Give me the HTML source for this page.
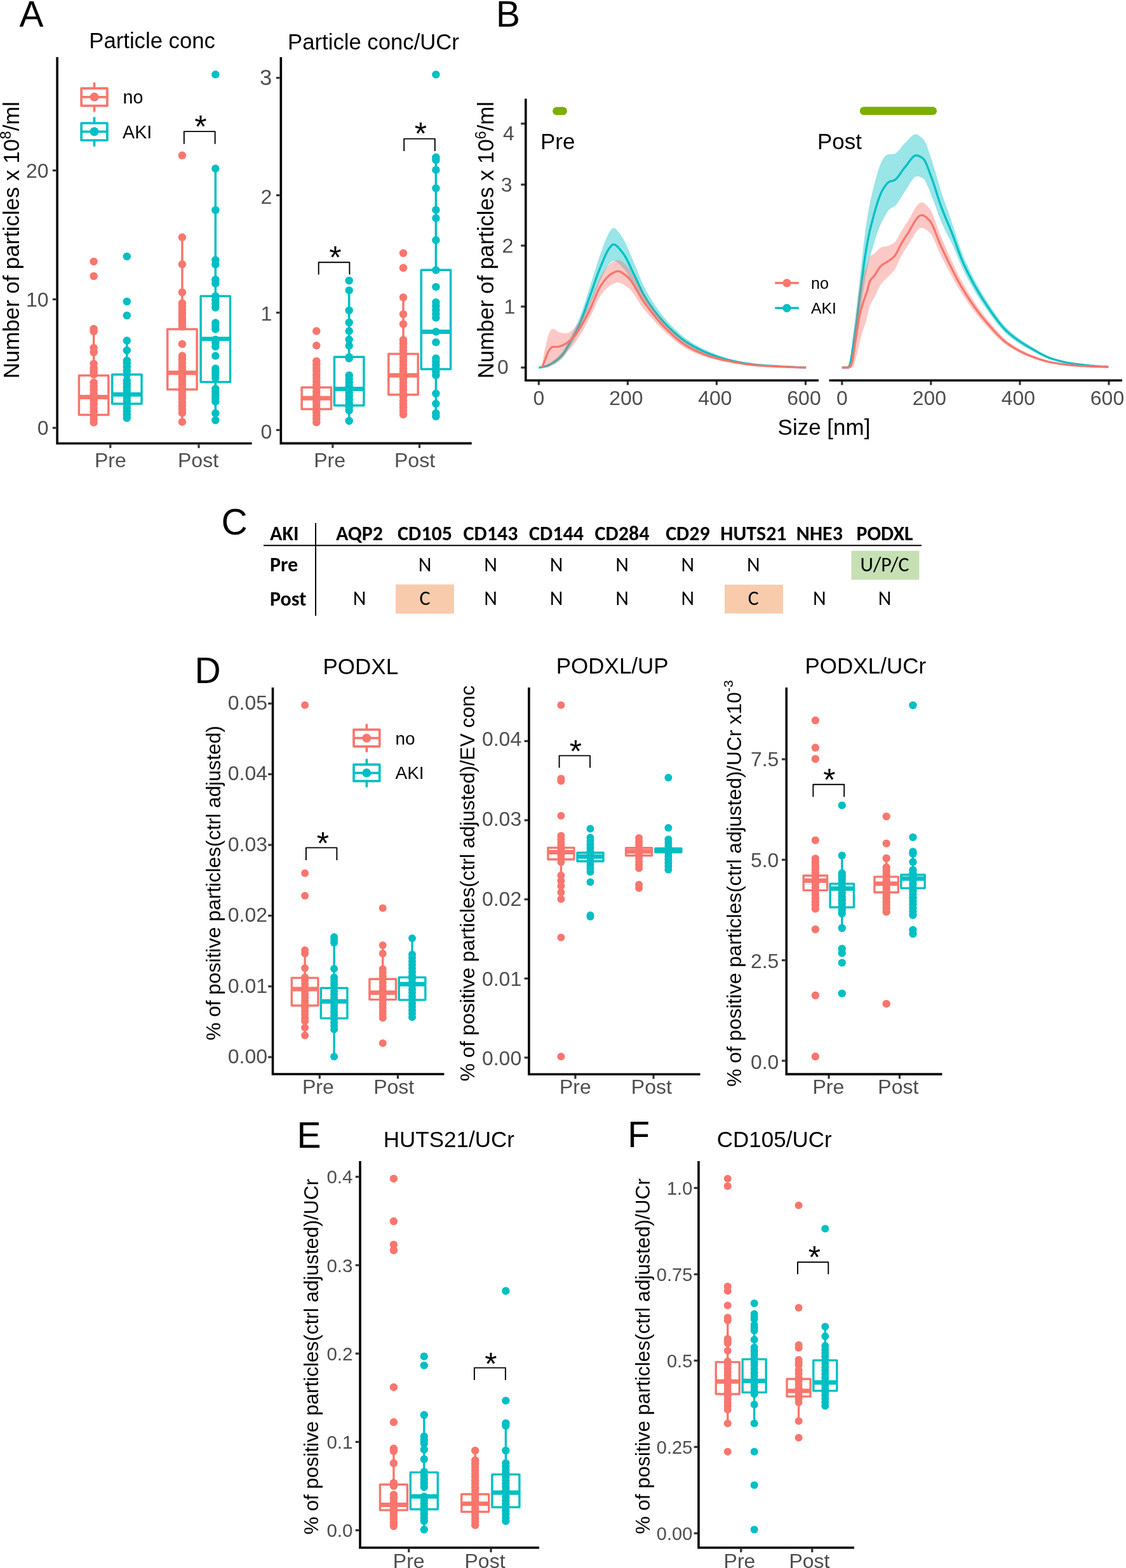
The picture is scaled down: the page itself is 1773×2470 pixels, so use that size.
<!DOCTYPE html>
<html><head><meta charset="utf-8"><title>Figure</title>
<style>html,body{margin:0;padding:0;background:#fff;}svg{display:block;}</style>
</head><body>
<svg width="1773" height="2470" viewBox="0 0 1773 2470">
<rect width="1773" height="2470" fill="#fff"/>
<text x="30.5" y="42" font-size="57" text-anchor="start" fill="#000" font-family="'Liberation Sans', Arial, sans-serif">A</text>
<text x="239.6" y="76.2" font-size="34.7" text-anchor="middle" fill="#000" font-family="'Liberation Sans', Arial, sans-serif">Particle conc</text>
<text transform="translate(29.6,378.1) rotate(-90)" x="0" y="0" font-size="34.8" text-anchor="middle" fill="#000" font-family="'Liberation Sans', Arial, sans-serif">Number of particles x 10<tspan dy="-12.5" font-size="23">8</tspan><tspan dy="12.5">/ml</tspan></text>
<path d="M90.1,90 V698.5 H396.5" fill="none" stroke="#000" stroke-width="3.6" stroke-linecap="butt" stroke-linejoin="miter"/>
<line x1="82.8" y1="674" x2="88.3" y2="674" stroke="#333333" stroke-width="3.2" stroke-linecap="butt"/>
<text x="76.5" y="685.46" font-size="32" text-anchor="end" fill="#4D4D4D" font-family="'Liberation Sans', Arial, sans-serif">0</text>
<line x1="82.8" y1="471.5" x2="88.3" y2="471.5" stroke="#333333" stroke-width="3.2" stroke-linecap="butt"/>
<text x="76.5" y="482.96" font-size="32" text-anchor="end" fill="#4D4D4D" font-family="'Liberation Sans', Arial, sans-serif">10</text>
<line x1="82.8" y1="268.5" x2="88.3" y2="268.5" stroke="#333333" stroke-width="3.2" stroke-linecap="butt"/>
<text x="76.5" y="279.96" font-size="32" text-anchor="end" fill="#4D4D4D" font-family="'Liberation Sans', Arial, sans-serif">20</text>
<line x1="173.8" y1="700.3" x2="173.8" y2="705.8" stroke="#333333" stroke-width="3.2" stroke-linecap="butt"/>
<text x="173.8" y="736.2" font-size="32" text-anchor="middle" fill="#4D4D4D" font-family="'Liberation Sans', Arial, sans-serif">Pre</text>
<line x1="313" y1="700.3" x2="313" y2="705.8" stroke="#333333" stroke-width="3.2" stroke-linecap="butt"/>
<text x="312" y="736.2" font-size="32" text-anchor="middle" fill="#4D4D4D" font-family="'Liberation Sans', Arial, sans-serif">Post</text>
<line x1="148.5" y1="131.25" x2="148.5" y2="139.2" stroke="#F8766D" stroke-width="3.7" stroke-linecap="round"/>
<line x1="148.5" y1="166.65" x2="148.5" y2="174.65" stroke="#F8766D" stroke-width="3.7" stroke-linecap="round"/>
<rect x="128.1" y="139.2" width="40.8" height="27.45" fill="none" stroke="#F8766D" stroke-width="3.7" stroke-linejoin="round"/>
<line x1="128.1" y1="152.85" x2="168.9" y2="152.85" stroke="#F8766D" stroke-width="3.7" stroke-linecap="butt"/>
<circle cx="148.5" cy="152.85" r="7" fill="#F8766D"/>
<line x1="148.5" y1="185.95" x2="148.5" y2="194" stroke="#00BFC4" stroke-width="3.7" stroke-linecap="round"/>
<line x1="148.5" y1="221" x2="148.5" y2="229.35" stroke="#00BFC4" stroke-width="3.7" stroke-linecap="round"/>
<rect x="128.1" y="194" width="40.8" height="27" fill="none" stroke="#00BFC4" stroke-width="3.7" stroke-linejoin="round"/>
<line x1="128.1" y1="207.3" x2="168.9" y2="207.3" stroke="#00BFC4" stroke-width="3.7" stroke-linecap="butt"/>
<circle cx="148.5" cy="207.3" r="7" fill="#00BFC4"/>
<text x="193.5" y="163.2" font-size="28.6" text-anchor="start" fill="#000" font-family="'Liberation Sans', Arial, sans-serif">no</text>
<text x="193.1" y="217.8" font-size="28.6" text-anchor="start" fill="#000" font-family="'Liberation Sans', Arial, sans-serif">AKI</text>
<line x1="147.6" y1="520" x2="147.6" y2="591.4" stroke="#F8766D" stroke-width="3.5" stroke-linecap="butt"/>
<line x1="147.6" y1="653.5" x2="147.6" y2="671" stroke="#F8766D" stroke-width="3.5" stroke-linecap="butt"/>
<rect x="124.4" y="591.4" width="46.4" height="62.1" fill="none" stroke="#F8766D" stroke-width="3.5" stroke-linejoin="round"/>
<line x1="124.4" y1="625.5" x2="170.8" y2="625.5" stroke="#F8766D" stroke-width="6.9" stroke-linecap="butt"/>
<circle cx="147.6" cy="412" r="6.25" fill="#F8766D"/>
<circle cx="147.6" cy="435" r="6.25" fill="#F8766D"/>
<circle cx="147.6" cy="518" r="6.25" fill="#F8766D"/>
<circle cx="147.6" cy="522" r="6.25" fill="#F8766D"/>
<circle cx="147.6" cy="548" r="6.25" fill="#F8766D"/>
<circle cx="147.6" cy="555" r="6.25" fill="#F8766D"/>
<circle cx="147.6" cy="573" r="6.25" fill="#F8766D"/>
<circle cx="147.6" cy="580" r="6.25" fill="#F8766D"/>
<circle cx="147.6" cy="585" r="6.25" fill="#F8766D"/>
<circle cx="147.6" cy="590" r="6.25" fill="#F8766D"/>
<circle cx="147.6" cy="602.5" r="6.25" fill="#F8766D"/>
<circle cx="147.6" cy="608.23" r="6.25" fill="#F8766D"/>
<circle cx="147.6" cy="613.95" r="6.25" fill="#F8766D"/>
<circle cx="147.6" cy="619.68" r="6.25" fill="#F8766D"/>
<circle cx="147.6" cy="625.41" r="6.25" fill="#F8766D"/>
<circle cx="147.6" cy="631.14" r="6.25" fill="#F8766D"/>
<circle cx="147.6" cy="636.86" r="6.25" fill="#F8766D"/>
<circle cx="147.6" cy="642.59" r="6.25" fill="#F8766D"/>
<circle cx="147.6" cy="648.32" r="6.25" fill="#F8766D"/>
<circle cx="147.6" cy="654.05" r="6.25" fill="#F8766D"/>
<circle cx="147.6" cy="659.77" r="6.25" fill="#F8766D"/>
<circle cx="147.6" cy="665.5" r="6.25" fill="#F8766D"/>
<line x1="199.8" y1="536.6" x2="199.8" y2="590" stroke="#00BFC4" stroke-width="3.5" stroke-linecap="butt"/>
<line x1="199.8" y1="636" x2="199.8" y2="663.8" stroke="#00BFC4" stroke-width="3.5" stroke-linecap="butt"/>
<rect x="176.6" y="590" width="46.4" height="46" fill="none" stroke="#00BFC4" stroke-width="3.5" stroke-linejoin="round"/>
<line x1="176.6" y1="621.4" x2="223" y2="621.4" stroke="#00BFC4" stroke-width="6.9" stroke-linecap="butt"/>
<circle cx="199.8" cy="404" r="6.25" fill="#00BFC4"/>
<circle cx="199.8" cy="475" r="6.25" fill="#00BFC4"/>
<circle cx="199.8" cy="497" r="6.25" fill="#00BFC4"/>
<circle cx="199.8" cy="536.6" r="6.25" fill="#00BFC4"/>
<circle cx="199.8" cy="552" r="6.25" fill="#00BFC4"/>
<circle cx="199.8" cy="568" r="6.25" fill="#00BFC4"/>
<circle cx="199.8" cy="572" r="6.25" fill="#00BFC4"/>
<circle cx="199.8" cy="578" r="6.25" fill="#00BFC4"/>
<circle cx="199.8" cy="584" r="6.25" fill="#00BFC4"/>
<circle cx="199.8" cy="590" r="6.25" fill="#00BFC4"/>
<circle cx="199.8" cy="599.5" r="6.25" fill="#00BFC4"/>
<circle cx="199.8" cy="604.86" r="6.25" fill="#00BFC4"/>
<circle cx="199.8" cy="610.23" r="6.25" fill="#00BFC4"/>
<circle cx="199.8" cy="615.59" r="6.25" fill="#00BFC4"/>
<circle cx="199.8" cy="620.95" r="6.25" fill="#00BFC4"/>
<circle cx="199.8" cy="626.32" r="6.25" fill="#00BFC4"/>
<circle cx="199.8" cy="631.68" r="6.25" fill="#00BFC4"/>
<circle cx="199.8" cy="637.05" r="6.25" fill="#00BFC4"/>
<circle cx="199.8" cy="642.41" r="6.25" fill="#00BFC4"/>
<circle cx="199.8" cy="647.77" r="6.25" fill="#00BFC4"/>
<circle cx="199.8" cy="653.14" r="6.25" fill="#00BFC4"/>
<circle cx="199.8" cy="658.5" r="6.25" fill="#00BFC4"/>
<line x1="286.9" y1="373.8" x2="286.9" y2="518.6" stroke="#F8766D" stroke-width="3.5" stroke-linecap="butt"/>
<line x1="286.9" y1="613.4" x2="286.9" y2="664.7" stroke="#F8766D" stroke-width="3.5" stroke-linecap="butt"/>
<rect x="263.7" y="518.6" width="46.4" height="94.8" fill="none" stroke="#F8766D" stroke-width="3.5" stroke-linejoin="round"/>
<line x1="263.7" y1="587.3" x2="310.1" y2="587.3" stroke="#F8766D" stroke-width="6.9" stroke-linecap="butt"/>
<circle cx="286.9" cy="244.8" r="6.25" fill="#F8766D"/>
<circle cx="286.9" cy="373.8" r="6.25" fill="#F8766D"/>
<circle cx="286.9" cy="416.3" r="6.25" fill="#F8766D"/>
<circle cx="286.9" cy="460.5" r="6.25" fill="#F8766D"/>
<circle cx="286.9" cy="477.5" r="6.25" fill="#F8766D"/>
<circle cx="286.9" cy="482.79" r="6.25" fill="#F8766D"/>
<circle cx="286.9" cy="488.07" r="6.25" fill="#F8766D"/>
<circle cx="286.9" cy="493.36" r="6.25" fill="#F8766D"/>
<circle cx="286.9" cy="498.64" r="6.25" fill="#F8766D"/>
<circle cx="286.9" cy="503.93" r="6.25" fill="#F8766D"/>
<circle cx="286.9" cy="509.21" r="6.25" fill="#F8766D"/>
<circle cx="286.9" cy="514.5" r="6.25" fill="#F8766D"/>
<circle cx="286.9" cy="542" r="6.25" fill="#F8766D"/>
<circle cx="286.9" cy="560.5" r="6.25" fill="#F8766D"/>
<circle cx="286.9" cy="566.12" r="6.25" fill="#F8766D"/>
<circle cx="286.9" cy="571.75" r="6.25" fill="#F8766D"/>
<circle cx="286.9" cy="577.38" r="6.25" fill="#F8766D"/>
<circle cx="286.9" cy="583" r="6.25" fill="#F8766D"/>
<circle cx="286.9" cy="588.62" r="6.25" fill="#F8766D"/>
<circle cx="286.9" cy="594.25" r="6.25" fill="#F8766D"/>
<circle cx="286.9" cy="599.88" r="6.25" fill="#F8766D"/>
<circle cx="286.9" cy="605.5" r="6.25" fill="#F8766D"/>
<circle cx="286.9" cy="611.12" r="6.25" fill="#F8766D"/>
<circle cx="286.9" cy="616.75" r="6.25" fill="#F8766D"/>
<circle cx="286.9" cy="622.38" r="6.25" fill="#F8766D"/>
<circle cx="286.9" cy="628" r="6.25" fill="#F8766D"/>
<circle cx="286.9" cy="633.62" r="6.25" fill="#F8766D"/>
<circle cx="286.9" cy="639.25" r="6.25" fill="#F8766D"/>
<circle cx="286.9" cy="644.88" r="6.25" fill="#F8766D"/>
<circle cx="286.9" cy="650.5" r="6.25" fill="#F8766D"/>
<circle cx="286.9" cy="664.7" r="6.25" fill="#F8766D"/>
<line x1="339.3" y1="265.6" x2="339.3" y2="466.4" stroke="#00BFC4" stroke-width="3.5" stroke-linecap="butt"/>
<line x1="339.3" y1="601.7" x2="339.3" y2="662" stroke="#00BFC4" stroke-width="3.5" stroke-linecap="butt"/>
<rect x="316.1" y="466.4" width="46.4" height="135.3" fill="none" stroke="#00BFC4" stroke-width="3.5" stroke-linejoin="round"/>
<line x1="316.1" y1="533.9" x2="362.5" y2="533.9" stroke="#00BFC4" stroke-width="6.9" stroke-linecap="butt"/>
<circle cx="339.3" cy="117.3" r="6.25" fill="#00BFC4"/>
<circle cx="339.3" cy="265.6" r="6.25" fill="#00BFC4"/>
<circle cx="339.3" cy="331" r="6.25" fill="#00BFC4"/>
<circle cx="339.3" cy="409.5" r="6.25" fill="#00BFC4"/>
<circle cx="339.3" cy="416.5" r="6.25" fill="#00BFC4"/>
<circle cx="339.3" cy="440.5" r="6.25" fill="#00BFC4"/>
<circle cx="339.3" cy="446.5" r="6.25" fill="#00BFC4"/>
<circle cx="339.3" cy="466.5" r="6.25" fill="#00BFC4"/>
<circle cx="339.3" cy="472.5" r="6.25" fill="#00BFC4"/>
<circle cx="339.3" cy="478.5" r="6.25" fill="#00BFC4"/>
<circle cx="339.3" cy="484.5" r="6.25" fill="#00BFC4"/>
<circle cx="339.3" cy="508.5" r="6.25" fill="#00BFC4"/>
<circle cx="339.3" cy="513.5" r="6.25" fill="#00BFC4"/>
<circle cx="339.3" cy="518.5" r="6.25" fill="#00BFC4"/>
<circle cx="339.3" cy="535" r="6.25" fill="#00BFC4"/>
<circle cx="339.3" cy="540" r="6.25" fill="#00BFC4"/>
<circle cx="339.3" cy="546" r="6.25" fill="#00BFC4"/>
<circle cx="339.3" cy="560.6" r="6.25" fill="#00BFC4"/>
<circle cx="339.3" cy="580.5" r="6.25" fill="#00BFC4"/>
<circle cx="339.3" cy="585.5" r="6.25" fill="#00BFC4"/>
<circle cx="339.3" cy="590.5" r="6.25" fill="#00BFC4"/>
<circle cx="339.3" cy="595.5" r="6.25" fill="#00BFC4"/>
<circle cx="339.3" cy="612.5" r="6.25" fill="#00BFC4"/>
<circle cx="339.3" cy="617.5" r="6.25" fill="#00BFC4"/>
<circle cx="339.3" cy="622.5" r="6.25" fill="#00BFC4"/>
<circle cx="339.3" cy="627.5" r="6.25" fill="#00BFC4"/>
<circle cx="339.3" cy="632.5" r="6.25" fill="#00BFC4"/>
<circle cx="339.3" cy="651" r="6.25" fill="#00BFC4"/>
<circle cx="339.3" cy="662" r="6.25" fill="#00BFC4"/>
<path d="M289.8,226.7 V207.1 H338.6 V226.7" fill="none" stroke="#000" stroke-width="1.9" stroke-linejoin="round"/>
<text x="316" y="216.66" font-size="49.5" text-anchor="middle" fill="#000" font-family="'Liberation Sans', Arial, sans-serif">*</text>
<text x="588" y="77.5" font-size="34.7" text-anchor="middle" fill="#000" font-family="'Liberation Sans', Arial, sans-serif">Particle conc/UCr</text>
<path d="M442.3,90 V698.4 H742.7" fill="none" stroke="#000" stroke-width="3.6" stroke-linecap="butt" stroke-linejoin="miter"/>
<line x1="435" y1="677.4" x2="440.5" y2="677.4" stroke="#333333" stroke-width="3.2" stroke-linecap="butt"/>
<text x="428.2" y="690.66" font-size="32" text-anchor="end" fill="#4D4D4D" font-family="'Liberation Sans', Arial, sans-serif">0</text>
<line x1="435" y1="492.5" x2="440.5" y2="492.5" stroke="#333333" stroke-width="3.2" stroke-linecap="butt"/>
<text x="428.2" y="505.41" font-size="32" text-anchor="end" fill="#4D4D4D" font-family="'Liberation Sans', Arial, sans-serif">1</text>
<line x1="435" y1="307.6" x2="440.5" y2="307.6" stroke="#333333" stroke-width="3.2" stroke-linecap="butt"/>
<text x="428.2" y="320.66" font-size="32" text-anchor="end" fill="#4D4D4D" font-family="'Liberation Sans', Arial, sans-serif">2</text>
<line x1="435" y1="122.7" x2="440.5" y2="122.7" stroke="#333333" stroke-width="3.2" stroke-linecap="butt"/>
<text x="428.2" y="133.7" font-size="34.5" text-anchor="end" fill="#4D4D4D" font-family="'Liberation Sans', Arial, sans-serif">3</text>
<line x1="523.9" y1="700.2" x2="523.9" y2="705.7" stroke="#333333" stroke-width="3.2" stroke-linecap="butt"/>
<text x="519.1" y="736.2" font-size="32" text-anchor="middle" fill="#4D4D4D" font-family="'Liberation Sans', Arial, sans-serif">Pre</text>
<line x1="660.5" y1="700.2" x2="660.5" y2="705.7" stroke="#333333" stroke-width="3.2" stroke-linecap="butt"/>
<text x="653" y="736.2" font-size="32" text-anchor="middle" fill="#4D4D4D" font-family="'Liberation Sans', Arial, sans-serif">Post</text>
<line x1="498.3" y1="563.5" x2="498.3" y2="610.3" stroke="#F8766D" stroke-width="3.5" stroke-linecap="butt"/>
<line x1="498.3" y1="644.5" x2="498.3" y2="670.8" stroke="#F8766D" stroke-width="3.5" stroke-linecap="butt"/>
<rect x="475.1" y="610.3" width="46.4" height="34.2" fill="none" stroke="#F8766D" stroke-width="3.5" stroke-linejoin="round"/>
<line x1="475.1" y1="627.2" x2="521.5" y2="627.2" stroke="#F8766D" stroke-width="6.9" stroke-linecap="butt"/>
<circle cx="498.3" cy="521.5" r="6.25" fill="#F8766D"/>
<circle cx="498.3" cy="544.3" r="6.25" fill="#F8766D"/>
<circle cx="498.3" cy="569" r="6.25" fill="#F8766D"/>
<circle cx="498.3" cy="574.35" r="6.25" fill="#F8766D"/>
<circle cx="498.3" cy="579.7" r="6.25" fill="#F8766D"/>
<circle cx="498.3" cy="585.05" r="6.25" fill="#F8766D"/>
<circle cx="498.3" cy="590.4" r="6.25" fill="#F8766D"/>
<circle cx="498.3" cy="595.75" r="6.25" fill="#F8766D"/>
<circle cx="498.3" cy="601.1" r="6.25" fill="#F8766D"/>
<circle cx="498.3" cy="606.45" r="6.25" fill="#F8766D"/>
<circle cx="498.3" cy="611.8" r="6.25" fill="#F8766D"/>
<circle cx="498.3" cy="617.15" r="6.25" fill="#F8766D"/>
<circle cx="498.3" cy="622.5" r="6.25" fill="#F8766D"/>
<circle cx="498.3" cy="627.85" r="6.25" fill="#F8766D"/>
<circle cx="498.3" cy="633.2" r="6.25" fill="#F8766D"/>
<circle cx="498.3" cy="638.55" r="6.25" fill="#F8766D"/>
<circle cx="498.3" cy="643.9" r="6.25" fill="#F8766D"/>
<circle cx="498.3" cy="649.25" r="6.25" fill="#F8766D"/>
<circle cx="498.3" cy="654.6" r="6.25" fill="#F8766D"/>
<circle cx="498.3" cy="659.95" r="6.25" fill="#F8766D"/>
<circle cx="498.3" cy="665.3" r="6.25" fill="#F8766D"/>
<line x1="549.7" y1="457.4" x2="549.7" y2="562.2" stroke="#00BFC4" stroke-width="3.5" stroke-linecap="butt"/>
<line x1="549.7" y1="638.7" x2="549.7" y2="663" stroke="#00BFC4" stroke-width="3.5" stroke-linecap="butt"/>
<rect x="526.5" y="562.2" width="46.4" height="76.5" fill="none" stroke="#00BFC4" stroke-width="3.5" stroke-linejoin="round"/>
<line x1="526.5" y1="612.6" x2="572.9" y2="612.6" stroke="#00BFC4" stroke-width="6.9" stroke-linecap="butt"/>
<circle cx="549.7" cy="442" r="6.25" fill="#00BFC4"/>
<circle cx="549.7" cy="457.4" r="6.25" fill="#00BFC4"/>
<circle cx="549.7" cy="489" r="6.25" fill="#00BFC4"/>
<circle cx="549.7" cy="508" r="6.25" fill="#00BFC4"/>
<circle cx="549.7" cy="521.5" r="6.25" fill="#00BFC4"/>
<circle cx="549.7" cy="534.8" r="6.25" fill="#00BFC4"/>
<circle cx="549.7" cy="544.7" r="6.25" fill="#00BFC4"/>
<circle cx="549.7" cy="562.5" r="6.25" fill="#00BFC4"/>
<circle cx="549.7" cy="564.5" r="6.25" fill="#00BFC4"/>
<circle cx="549.7" cy="591.2" r="6.25" fill="#00BFC4"/>
<circle cx="549.7" cy="596.73" r="6.25" fill="#00BFC4"/>
<circle cx="549.7" cy="602.26" r="6.25" fill="#00BFC4"/>
<circle cx="549.7" cy="607.79" r="6.25" fill="#00BFC4"/>
<circle cx="549.7" cy="613.32" r="6.25" fill="#00BFC4"/>
<circle cx="549.7" cy="618.85" r="6.25" fill="#00BFC4"/>
<circle cx="549.7" cy="624.38" r="6.25" fill="#00BFC4"/>
<circle cx="549.7" cy="629.91" r="6.25" fill="#00BFC4"/>
<circle cx="549.7" cy="635.44" r="6.25" fill="#00BFC4"/>
<circle cx="549.7" cy="640.97" r="6.25" fill="#00BFC4"/>
<circle cx="549.7" cy="646.5" r="6.25" fill="#00BFC4"/>
<circle cx="549.7" cy="663" r="6.25" fill="#00BFC4"/>
<line x1="635" y1="468.5" x2="635" y2="557.4" stroke="#F8766D" stroke-width="3.5" stroke-linecap="butt"/>
<line x1="635" y1="621.7" x2="635" y2="658.6" stroke="#F8766D" stroke-width="3.5" stroke-linecap="butt"/>
<rect x="611.8" y="557.4" width="46.4" height="64.3" fill="none" stroke="#F8766D" stroke-width="3.5" stroke-linejoin="round"/>
<line x1="611.8" y1="591.2" x2="658.2" y2="591.2" stroke="#F8766D" stroke-width="6.9" stroke-linecap="butt"/>
<circle cx="635" cy="398.8" r="6.25" fill="#F8766D"/>
<circle cx="635" cy="422" r="6.25" fill="#F8766D"/>
<circle cx="635" cy="468.5" r="6.25" fill="#F8766D"/>
<circle cx="635" cy="495" r="6.25" fill="#F8766D"/>
<circle cx="635" cy="510.5" r="6.25" fill="#F8766D"/>
<circle cx="635" cy="535.5" r="6.25" fill="#F8766D"/>
<circle cx="635" cy="541.1" r="6.25" fill="#F8766D"/>
<circle cx="635" cy="546.7" r="6.25" fill="#F8766D"/>
<circle cx="635" cy="552.3" r="6.25" fill="#F8766D"/>
<circle cx="635" cy="557.9" r="6.25" fill="#F8766D"/>
<circle cx="635" cy="563.5" r="6.25" fill="#F8766D"/>
<circle cx="635" cy="569.1" r="6.25" fill="#F8766D"/>
<circle cx="635" cy="574.7" r="6.25" fill="#F8766D"/>
<circle cx="635" cy="580.3" r="6.25" fill="#F8766D"/>
<circle cx="635" cy="585.9" r="6.25" fill="#F8766D"/>
<circle cx="635" cy="591.5" r="6.25" fill="#F8766D"/>
<circle cx="635" cy="597.1" r="6.25" fill="#F8766D"/>
<circle cx="635" cy="602.7" r="6.25" fill="#F8766D"/>
<circle cx="635" cy="608.3" r="6.25" fill="#F8766D"/>
<circle cx="635" cy="613.9" r="6.25" fill="#F8766D"/>
<circle cx="635" cy="619.5" r="6.25" fill="#F8766D"/>
<circle cx="635" cy="625.1" r="6.25" fill="#F8766D"/>
<circle cx="635" cy="630.7" r="6.25" fill="#F8766D"/>
<circle cx="635" cy="636.3" r="6.25" fill="#F8766D"/>
<circle cx="635" cy="641.9" r="6.25" fill="#F8766D"/>
<circle cx="635" cy="647.5" r="6.25" fill="#F8766D"/>
<circle cx="635" cy="653.1" r="6.25" fill="#F8766D"/>
<line x1="686.4" y1="247.8" x2="686.4" y2="425.2" stroke="#00BFC4" stroke-width="3.5" stroke-linecap="butt"/>
<line x1="686.4" y1="581.4" x2="686.4" y2="656" stroke="#00BFC4" stroke-width="3.5" stroke-linecap="butt"/>
<rect x="663.2" y="425.2" width="46.4" height="156.2" fill="none" stroke="#00BFC4" stroke-width="3.5" stroke-linejoin="round"/>
<line x1="663.2" y1="522.6" x2="709.6" y2="522.6" stroke="#00BFC4" stroke-width="6.9" stroke-linecap="butt"/>
<circle cx="686.4" cy="117.4" r="6.25" fill="#00BFC4"/>
<circle cx="686.4" cy="247.8" r="6.25" fill="#00BFC4"/>
<circle cx="686.4" cy="252" r="6.25" fill="#00BFC4"/>
<circle cx="686.4" cy="267.7" r="6.25" fill="#00BFC4"/>
<circle cx="686.4" cy="296.5" r="6.25" fill="#00BFC4"/>
<circle cx="686.4" cy="330.7" r="6.25" fill="#00BFC4"/>
<circle cx="686.4" cy="343.6" r="6.25" fill="#00BFC4"/>
<circle cx="686.4" cy="378.3" r="6.25" fill="#00BFC4"/>
<circle cx="686.4" cy="425.5" r="6.25" fill="#00BFC4"/>
<circle cx="686.4" cy="451.9" r="6.25" fill="#00BFC4"/>
<circle cx="686.4" cy="476.2" r="6.25" fill="#00BFC4"/>
<circle cx="686.4" cy="482.27" r="6.25" fill="#00BFC4"/>
<circle cx="686.4" cy="488.35" r="6.25" fill="#00BFC4"/>
<circle cx="686.4" cy="494.43" r="6.25" fill="#00BFC4"/>
<circle cx="686.4" cy="500.5" r="6.25" fill="#00BFC4"/>
<circle cx="686.4" cy="522.6" r="6.25" fill="#00BFC4"/>
<circle cx="686.4" cy="539.2" r="6.25" fill="#00BFC4"/>
<circle cx="686.4" cy="564.5" r="6.25" fill="#00BFC4"/>
<circle cx="686.4" cy="569.84" r="6.25" fill="#00BFC4"/>
<circle cx="686.4" cy="575.18" r="6.25" fill="#00BFC4"/>
<circle cx="686.4" cy="580.52" r="6.25" fill="#00BFC4"/>
<circle cx="686.4" cy="585.86" r="6.25" fill="#00BFC4"/>
<circle cx="686.4" cy="591.2" r="6.25" fill="#00BFC4"/>
<circle cx="686.4" cy="620" r="6.25" fill="#00BFC4"/>
<circle cx="686.4" cy="636" r="6.25" fill="#00BFC4"/>
<circle cx="686.4" cy="651" r="6.25" fill="#00BFC4"/>
<circle cx="686.4" cy="656" r="6.25" fill="#00BFC4"/>
<path d="M501.7,432.6 V413.3 H550.4 V432.6" fill="none" stroke="#000" stroke-width="1.9" stroke-linejoin="round"/>
<text x="527.8" y="423.15" font-size="49.5" text-anchor="middle" fill="#000" font-family="'Liberation Sans', Arial, sans-serif">*</text>
<path d="M636.2,237.9 V218.6 H684.8 V237.9" fill="none" stroke="#000" stroke-width="1.9" stroke-linejoin="round"/>
<text x="662.5" y="227.96" font-size="49.5" text-anchor="middle" fill="#000" font-family="'Liberation Sans', Arial, sans-serif">*</text>
<text x="781" y="42" font-size="57" text-anchor="start" fill="#000" font-family="'Liberation Sans', Arial, sans-serif">B</text>
<text transform="translate(777,378.2) rotate(-90)" x="0" y="0" font-size="34.8" text-anchor="middle" fill="#000" font-family="'Liberation Sans', Arial, sans-serif">Number of particles x 10<tspan dy="-12.5" font-size="23">6</tspan><tspan dy="12.5">/ml</tspan></text>
<path d="M827.8,155.5 V599.2 H1289" fill="none" stroke="#000" stroke-width="3.6"/>
<path d="M1305.6,599.2 H1767" fill="none" stroke="#000" stroke-width="3.6"/>
<line x1="820.2" y1="579" x2="826" y2="579" stroke="#333333" stroke-width="3.2" stroke-linecap="butt"/>
<text x="800.8" y="588.6" font-size="32" text-anchor="end" fill="#4D4D4D" font-family="'Liberation Sans', Arial, sans-serif">0</text>
<line x1="820.2" y1="482.95" x2="826" y2="482.95" stroke="#333333" stroke-width="3.2" stroke-linecap="butt"/>
<text x="811.2" y="494.2" font-size="32" text-anchor="end" fill="#4D4D4D" font-family="'Liberation Sans', Arial, sans-serif">1</text>
<line x1="820.2" y1="386.9" x2="826" y2="386.9" stroke="#333333" stroke-width="3.2" stroke-linecap="butt"/>
<text x="808.4" y="398.4" font-size="32" text-anchor="end" fill="#4D4D4D" font-family="'Liberation Sans', Arial, sans-serif">2</text>
<line x1="820.2" y1="290.85" x2="826" y2="290.85" stroke="#333333" stroke-width="3.2" stroke-linecap="butt"/>
<text x="806.6" y="302.1" font-size="32" text-anchor="end" fill="#4D4D4D" font-family="'Liberation Sans', Arial, sans-serif">3</text>
<line x1="820.2" y1="194.8" x2="826" y2="194.8" stroke="#333333" stroke-width="3.2" stroke-linecap="butt"/>
<text x="809.8" y="220.6" font-size="32" text-anchor="end" fill="#4D4D4D" font-family="'Liberation Sans', Arial, sans-serif">4</text>
<line x1="848.3" y1="601" x2="848.3" y2="606.5" stroke="#333333" stroke-width="3.2" stroke-linecap="butt"/>
<text x="848.3" y="637.5" font-size="32" text-anchor="middle" fill="#4D4D4D" font-family="'Liberation Sans', Arial, sans-serif">0</text>
<line x1="988.36" y1="601" x2="988.36" y2="606.5" stroke="#333333" stroke-width="3.2" stroke-linecap="butt"/>
<text x="985.86" y="637.5" font-size="32" text-anchor="middle" fill="#4D4D4D" font-family="'Liberation Sans', Arial, sans-serif">200</text>
<line x1="1128.42" y1="601" x2="1128.42" y2="606.5" stroke="#333333" stroke-width="3.2" stroke-linecap="butt"/>
<text x="1125.92" y="637.5" font-size="32" text-anchor="middle" fill="#4D4D4D" font-family="'Liberation Sans', Arial, sans-serif">400</text>
<line x1="1268.48" y1="601" x2="1268.48" y2="606.5" stroke="#333333" stroke-width="3.2" stroke-linecap="butt"/>
<text x="1265.98" y="637.5" font-size="32" text-anchor="middle" fill="#4D4D4D" font-family="'Liberation Sans', Arial, sans-serif">600</text>
<line x1="1325.8" y1="601" x2="1325.8" y2="606.5" stroke="#333333" stroke-width="3.2" stroke-linecap="butt"/>
<text x="1325.8" y="637.5" font-size="32" text-anchor="middle" fill="#4D4D4D" font-family="'Liberation Sans', Arial, sans-serif">0</text>
<line x1="1465.86" y1="601" x2="1465.86" y2="606.5" stroke="#333333" stroke-width="3.2" stroke-linecap="butt"/>
<text x="1463.36" y="637.5" font-size="32" text-anchor="middle" fill="#4D4D4D" font-family="'Liberation Sans', Arial, sans-serif">200</text>
<line x1="1605.92" y1="601" x2="1605.92" y2="606.5" stroke="#333333" stroke-width="3.2" stroke-linecap="butt"/>
<text x="1603.42" y="637.5" font-size="32" text-anchor="middle" fill="#4D4D4D" font-family="'Liberation Sans', Arial, sans-serif">400</text>
<line x1="1745.98" y1="601" x2="1745.98" y2="606.5" stroke="#333333" stroke-width="3.2" stroke-linecap="butt"/>
<text x="1743.48" y="637.5" font-size="32" text-anchor="middle" fill="#4D4D4D" font-family="'Liberation Sans', Arial, sans-serif">600</text>
<text x="1297.5" y="684.8" font-size="35" text-anchor="middle" fill="#000" font-family="'Liberation Sans', Arial, sans-serif">Size [nm]</text>
<line x1="876.5" y1="174.9" x2="886.5" y2="174.9" stroke="#7CAE00" stroke-width="12.8" stroke-linecap="round"/>
<line x1="1360.2" y1="174.7" x2="1468.8" y2="174.7" stroke="#7CAE00" stroke-width="12.8" stroke-linecap="round"/>
<text x="851" y="235" font-size="35" text-anchor="start" fill="#000" font-family="'Liberation Sans', Arial, sans-serif">Pre</text>
<text x="1287" y="235" font-size="35" text-anchor="start" fill="#000" font-family="'Liberation Sans', Arial, sans-serif">Post</text>
<line x1="1220.3" y1="445.8" x2="1257.8" y2="445.8" stroke="#F8766D" stroke-width="3.5" stroke-linecap="butt"/>
<circle cx="1239" cy="445.8" r="6.6" fill="#F8766D"/>
<line x1="1220.3" y1="485.3" x2="1257.8" y2="485.3" stroke="#00BFC4" stroke-width="3.5" stroke-linecap="butt"/>
<circle cx="1239" cy="485.3" r="6.6" fill="#00BFC4"/>
<text x="1277" y="455.1" font-size="25.2" text-anchor="start" fill="#000" font-family="'Liberation Sans', Arial, sans-serif">no</text>
<text x="1277" y="494.3" font-size="24.8" text-anchor="start" fill="#000" font-family="'Liberation Sans', Arial, sans-serif">AKI</text>
<polygon points="848.3,578.04 850.06,577.78 851.82,577.42 853.58,576.97 855.34,576.44 857.11,575.86 858.87,575.24 860.63,574.53 862.39,573.67 864.15,572.68 865.91,571.59 867.67,570.42 869.43,569.19 871.19,567.93 872.95,566.59 874.72,565.17 876.48,563.64 878.24,562 880,560.24 881.76,558.36 883.52,556.35 885.28,554.18 887.04,551.7 888.8,548.89 890.56,545.83 892.33,542.59 894.09,539.21 895.85,535.78 897.61,532.36 899.37,528.96 901.13,525.52 902.89,522 904.65,518.39 906.41,514.67 908.17,510.8 909.94,506.79 911.7,502.59 913.46,498.15 915.22,493.42 916.98,488.44 918.74,483.26 920.5,477.9 922.26,472.41 924.02,466.84 925.78,461.25 927.55,455.71 929.31,450.24 931.07,444.69 932.83,439.03 934.59,433.3 936.35,427.58 938.11,421.89 939.87,416.3 941.63,410.87 943.39,405.63 945.16,400.65 946.92,395.95 948.68,391.21 950.44,386.42 952.2,381.71 953.96,377.2 955.72,373.02 957.48,369.28 959.24,366.12 961,363.58 962.77,361.26 964.53,359.56 966.29,359.06 968.05,359.55 969.81,360.67 971.57,362.31 973.33,364.38 975.09,366.76 976.85,369.35 978.61,372.05 980.38,374.76 982.14,377.59 983.9,380.81 985.66,384.37 987.42,388.18 989.18,392.16 990.94,396.31 992.7,400.55 994.46,404.83 996.22,409.07 997.99,413.19 999.75,417.3 1001.51,421.56 1003.27,425.93 1005.03,430.34 1006.79,434.73 1008.55,439.04 1010.31,443.22 1012.07,447.21 1013.83,450.93 1015.6,454.37 1017.36,457.66 1019.12,460.85 1020.88,463.96 1022.64,466.96 1024.4,469.87 1026.16,472.71 1027.92,475.49 1029.68,478.19 1031.44,480.84 1033.21,483.42 1034.97,485.93 1036.73,488.39 1038.49,490.78 1040.25,493.11 1042.01,495.38 1043.77,497.59 1045.53,499.74 1047.29,501.84 1049.05,503.88 1050.82,505.87 1052.58,507.83 1054.34,509.74 1056.1,511.61 1057.86,513.44 1059.62,515.23 1061.38,516.98 1063.14,518.7 1064.9,520.37 1066.66,522.01 1068.43,523.61 1070.19,525.17 1071.95,526.69 1073.71,528.17 1075.47,529.6 1077.23,530.99 1078.99,532.34 1080.75,533.64 1082.51,534.89 1084.27,536.1 1086.04,537.28 1087.8,538.43 1089.56,539.56 1091.32,540.65 1093.08,541.73 1094.84,542.77 1096.6,543.8 1098.36,544.79 1100.12,545.77 1101.88,546.72 1103.65,547.64 1105.41,548.55 1107.17,549.43 1108.93,550.28 1110.69,551.12 1112.45,551.94 1114.21,552.73 1115.97,553.51 1117.73,554.26 1119.49,555 1121.26,555.72 1123.02,556.43 1124.78,557.14 1126.54,557.82 1128.3,558.5 1130.06,559.16 1131.82,559.81 1133.58,560.44 1135.34,561.06 1137.1,561.66 1138.87,562.25 1140.63,562.82 1142.39,563.38 1144.15,563.92 1145.91,564.43 1147.67,564.94 1149.43,565.42 1151.19,565.88 1152.95,566.32 1154.71,566.75 1156.48,567.17 1158.24,567.58 1160,567.99 1161.76,568.39 1163.52,568.77 1165.28,569.15 1167.04,569.52 1168.8,569.87 1170.56,570.22 1172.33,570.55 1174.09,570.88 1175.85,571.19 1177.61,571.48 1179.37,571.77 1181.13,572.04 1182.89,572.3 1184.65,572.54 1186.41,572.77 1188.17,572.98 1189.94,573.18 1191.7,573.38 1193.46,573.57 1195.22,573.76 1196.98,573.93 1198.74,574.11 1200.5,574.27 1202.26,574.43 1204.02,574.59 1205.78,574.74 1207.55,574.89 1209.31,575.03 1211.07,575.17 1212.83,575.31 1214.59,575.45 1216.35,575.58 1218.11,575.71 1219.87,575.83 1221.63,575.96 1223.39,576.08 1225.16,576.2 1226.92,576.32 1228.68,576.44 1230.44,576.55 1232.2,576.67 1233.96,576.78 1235.72,576.89 1237.48,577 1239.24,577.1 1241,577.21 1242.77,577.31 1244.53,577.41 1246.29,577.51 1248.05,577.6 1249.81,577.7 1251.57,577.79 1253.33,577.87 1255.09,577.96 1256.85,578.04 1258.61,578.12 1260.38,578.19 1262.14,578.27 1263.9,578.33 1265.66,578.4 1267.42,578.46 1269.18,578.52 1269.18,579 1267.42,579 1265.66,579 1263.9,579 1262.14,579 1260.38,579 1258.61,579 1256.85,579 1255.09,579 1253.33,578.97 1251.57,578.9 1249.81,578.84 1248.05,578.77 1246.29,578.7 1244.53,578.63 1242.77,578.56 1241,578.49 1239.24,578.42 1237.48,578.35 1235.72,578.27 1233.96,578.2 1232.2,578.12 1230.44,578.05 1228.68,577.97 1226.92,577.89 1225.16,577.81 1223.39,577.73 1221.63,577.65 1219.87,577.57 1218.11,577.49 1216.35,577.41 1214.59,577.32 1212.83,577.23 1211.07,577.14 1209.31,577.04 1207.55,576.95 1205.78,576.85 1204.02,576.74 1202.26,576.63 1200.5,576.52 1198.74,576.4 1196.98,576.28 1195.22,576.15 1193.46,576.02 1191.7,575.89 1189.94,575.75 1188.17,575.6 1186.41,575.45 1184.65,575.29 1182.89,575.11 1181.13,574.92 1179.37,574.72 1177.61,574.51 1175.85,574.29 1174.09,574.05 1172.33,573.81 1170.56,573.56 1168.8,573.29 1167.04,573.02 1165.28,572.74 1163.52,572.45 1161.76,572.15 1160,571.84 1158.24,571.53 1156.48,571.21 1154.71,570.89 1152.95,570.56 1151.19,570.21 1149.43,569.85 1147.67,569.47 1145.91,569.08 1144.15,568.66 1142.39,568.23 1140.63,567.79 1138.87,567.33 1137.1,566.85 1135.34,566.36 1133.58,565.86 1131.82,565.34 1130.06,564.81 1128.3,564.27 1126.54,563.72 1124.78,563.15 1123.02,562.58 1121.26,562 1119.49,561.4 1117.73,560.8 1115.97,560.19 1114.21,559.55 1112.45,558.9 1110.69,558.23 1108.93,557.55 1107.17,556.85 1105.41,556.12 1103.65,555.38 1101.88,554.62 1100.12,553.84 1098.36,553.04 1096.6,552.22 1094.84,551.38 1093.08,550.52 1091.32,549.64 1089.56,548.74 1087.8,547.81 1086.04,546.86 1084.27,545.89 1082.51,544.9 1080.75,543.86 1078.99,542.78 1077.23,541.66 1075.47,540.51 1073.71,539.31 1071.95,538.08 1070.19,536.81 1068.43,535.5 1066.66,534.16 1064.9,532.79 1063.14,531.38 1061.38,529.94 1059.62,528.47 1057.86,526.98 1056.1,525.45 1054.34,523.91 1052.58,522.35 1050.82,520.77 1049.05,519.17 1047.29,517.54 1045.53,515.88 1043.77,514.18 1042.01,512.44 1040.25,510.65 1038.49,508.83 1036.73,506.96 1034.97,505.05 1033.21,503.09 1031.44,501.08 1029.68,499.03 1027.92,496.92 1026.16,494.76 1024.4,492.55 1022.64,490.29 1020.88,488 1019.12,485.67 1017.36,483.32 1015.6,480.92 1013.83,478.43 1012.07,475.69 1010.31,472.72 1008.55,469.59 1006.79,466.34 1005.03,463.02 1003.27,459.7 1001.51,456.42 999.75,453.23 997.99,450.18 996.22,447.1 994.46,443.88 992.7,440.59 990.94,437.28 989.18,434.03 987.42,430.9 985.66,428.01 983.9,425.43 982.14,423.21 980.38,421.39 978.61,419.67 976.85,417.91 975.09,416.19 973.33,414.58 971.57,413.17 969.81,412.04 968.05,411.26 966.29,410.92 964.53,411.33 962.77,412.69 961,414.45 959.24,416.23 957.48,418.5 955.72,421.21 953.96,424.3 952.2,427.66 950.44,431.21 948.68,434.87 946.92,438.54 945.16,442.22 943.39,446.11 941.63,450.18 939.87,454.39 938.11,458.71 936.35,463.09 934.59,467.49 932.83,471.88 931.07,476.2 929.31,480.43 927.55,484.61 925.78,488.9 924.02,493.29 922.26,497.71 920.5,502.14 918.74,506.52 916.98,510.8 915.22,514.91 913.46,518.8 911.7,522.41 909.94,525.81 908.17,529.05 906.41,532.16 904.65,535.15 902.89,538.05 901.13,540.88 899.37,543.65 897.61,546.4 895.85,549.19 894.09,552 892.33,554.78 890.56,557.44 888.8,559.93 887.04,562.18 885.28,564.13 883.52,565.77 881.76,567.27 880,568.66 878.24,569.93 876.48,571.11 874.72,572.19 872.95,573.19 871.19,574.11 869.43,574.98 867.67,575.82 865.91,576.62 864.15,577.35 862.39,577.98 860.63,578.5 858.87,578.88 857.11,579 855.34,579 853.58,579 851.82,579 850.06,579 848.3,579" fill="#00BFC4" fill-opacity="0.4" stroke="none"/>
<polyline points="848.3,579 850.06,578.87 851.82,578.64 853.58,578.32 855.34,577.94 857.11,577.52 858.87,577.06 860.63,576.51 862.39,575.82 864.15,575.01 865.91,574.1 867.67,573.12 869.43,572.08 871.19,571.02 872.95,569.89 874.72,568.68 876.48,567.37 878.24,565.97 880,564.45 881.76,562.82 883.52,561.06 885.28,559.16 887.04,556.94 888.8,554.41 890.56,551.64 892.33,548.68 894.09,545.61 895.85,542.49 897.61,539.38 899.37,536.31 901.13,533.2 902.89,530.03 904.65,526.77 906.41,523.41 908.17,519.93 909.94,516.3 911.7,512.5 913.46,508.48 915.22,504.17 916.98,499.62 918.74,494.89 920.5,490.02 922.26,485.06 924.02,480.06 925.78,475.08 927.55,470.16 929.31,465.34 931.07,460.45 932.83,455.45 934.59,450.4 936.35,445.33 938.11,440.3 939.87,435.35 941.63,430.52 943.39,425.87 945.16,421.44 946.92,417.25 948.68,413.04 950.44,408.82 952.2,404.68 953.96,400.75 955.72,397.11 957.48,393.89 959.24,391.17 961,389.01 962.77,386.98 964.53,385.44 966.29,384.99 968.05,385.41 969.81,386.35 971.57,387.74 973.33,389.48 975.09,391.47 976.85,393.63 978.61,395.86 980.38,398.08 982.14,400.4 983.9,403.12 985.66,406.19 987.42,409.54 989.18,413.09 990.94,416.79 992.7,420.57 994.46,424.36 996.22,428.08 997.99,431.69 999.75,435.26 1001.51,438.99 1003.27,442.81 1005.03,446.68 1006.79,450.53 1008.55,454.31 1010.31,457.97 1012.07,461.45 1013.83,464.68 1015.6,467.64 1017.36,470.49 1019.12,473.26 1020.88,475.98 1022.64,478.62 1024.4,481.21 1026.16,483.74 1027.92,486.2 1029.68,488.61 1031.44,490.96 1033.21,493.25 1034.97,495.49 1036.73,497.67 1038.49,499.8 1040.25,501.88 1042.01,503.91 1043.77,505.88 1045.53,507.81 1047.29,509.69 1049.05,511.53 1050.82,513.32 1052.58,515.09 1054.34,516.83 1056.1,518.53 1057.86,520.21 1059.62,521.85 1061.38,523.46 1063.14,525.04 1064.9,526.58 1066.66,528.09 1068.43,529.56 1070.19,530.99 1071.95,532.38 1073.71,533.74 1075.47,535.05 1077.23,536.33 1078.99,537.56 1080.75,538.75 1082.51,539.89 1084.27,541 1086.04,542.07 1087.8,543.12 1089.56,544.15 1091.32,545.15 1093.08,546.12 1094.84,547.08 1096.6,548.01 1098.36,548.92 1100.12,549.8 1101.88,550.67 1103.65,551.51 1105.41,552.33 1107.17,553.14 1108.93,553.92 1110.69,554.68 1112.45,555.42 1114.21,556.14 1115.97,556.85 1117.73,557.53 1119.49,558.2 1121.26,558.86 1123.02,559.51 1124.78,560.14 1126.54,560.77 1128.3,561.38 1130.06,561.98 1131.82,562.57 1133.58,563.15 1135.34,563.71 1137.1,564.26 1138.87,564.79 1140.63,565.31 1142.39,565.81 1144.15,566.29 1145.91,566.76 1147.67,567.21 1149.43,567.64 1151.19,568.05 1152.95,568.44 1154.71,568.82 1156.48,569.19 1158.24,569.56 1160,569.92 1161.76,570.27 1163.52,570.61 1165.28,570.94 1167.04,571.27 1168.8,571.58 1170.56,571.89 1172.33,572.18 1174.09,572.47 1175.85,572.74 1177.61,573 1179.37,573.25 1181.13,573.48 1182.89,573.71 1184.65,573.91 1186.41,574.11 1188.17,574.29 1189.94,574.47 1191.7,574.64 1193.46,574.8 1195.22,574.96 1196.98,575.11 1198.74,575.25 1200.5,575.4 1202.26,575.53 1204.02,575.66 1205.78,575.79 1207.55,575.92 1209.31,576.04 1211.07,576.16 1212.83,576.27 1214.59,576.38 1216.35,576.49 1218.11,576.6 1219.87,576.7 1221.63,576.8 1223.39,576.91 1225.16,577.01 1226.92,577.1 1228.68,577.2 1230.44,577.3 1232.2,577.39 1233.96,577.49 1235.72,577.58 1237.48,577.67 1239.24,577.76 1241,577.85 1242.77,577.94 1244.53,578.02 1246.29,578.11 1248.05,578.19 1249.81,578.27 1251.57,578.35 1253.33,578.42 1255.09,578.49 1256.85,578.57 1258.61,578.64 1260.38,578.7 1262.14,578.77 1263.9,578.83 1265.66,578.89 1267.42,578.95 1269.18,579" fill="none" stroke="#00BFC4" stroke-width="3.3" stroke-linejoin="round"/>
<polygon points="853.2,577.08 854.94,566.51 856.68,556.57 858.42,548.09 860.16,540.53 861.9,533.27 863.65,527.61 865.39,523.55 867.13,520.27 868.87,518.19 870.61,517.7 872.35,518.35 874.09,519.37 875.83,520.59 877.57,521.85 879.31,522.85 881.05,523.42 882.79,523.9 884.53,524.39 886.27,524.86 888.01,525.16 889.75,525.28 891.49,525.18 893.23,524.83 894.97,524.22 896.71,523.31 898.45,522.13 900.2,520.75 901.94,519.15 903.68,517.36 905.42,515.39 907.16,513.27 908.9,511.03 910.64,508.69 912.38,506.26 914.12,503.66 915.86,500.86 917.6,497.88 919.34,494.72 921.08,491.41 922.82,487.96 924.56,484.4 926.3,480.77 928.04,477.07 929.78,473.3 931.52,469.19 933.26,464.83 935.01,460.29 936.75,455.7 938.49,451.15 940.23,446.75 941.97,442.59 943.71,438.78 945.45,435.42 947.19,432.55 948.93,429.85 950.67,427.28 952.41,424.86 954.15,422.6 955.89,420.51 957.63,418.58 959.37,416.85 961.11,415.33 962.85,414.05 964.59,412.94 966.33,411.86 968.07,410.9 969.82,410.13 971.56,409.63 973.3,409.49 975.04,409.74 976.78,410.39 978.52,411.36 980.26,412.61 982,414.07 983.74,415.69 985.48,417.4 987.22,419.15 988.96,420.99 990.7,423.15 992.44,425.6 994.18,428.3 995.92,431.22 997.66,434.29 999.4,437.49 1001.14,440.76 1002.88,444.08 1004.63,447.42 1006.37,450.76 1008.11,454.07 1009.85,457.29 1011.59,460.41 1013.33,463.36 1015.07,466.13 1016.81,468.79 1018.55,471.44 1020.29,474.07 1022.03,476.68 1023.77,479.26 1025.51,481.81 1027.25,484.33 1028.99,486.8 1030.73,489.24 1032.47,491.62 1034.21,493.95 1035.95,496.23 1037.69,498.44 1039.44,500.6 1041.18,502.71 1042.92,504.77 1044.66,506.78 1046.4,508.73 1048.14,510.61 1049.88,512.45 1051.62,514.25 1053.36,516.03 1055.1,517.79 1056.84,519.53 1058.58,521.24 1060.32,522.92 1062.06,524.57 1063.8,526.19 1065.54,527.78 1067.28,529.33 1069.02,530.85 1070.76,532.32 1072.5,533.75 1074.24,535.14 1075.99,536.49 1077.73,537.78 1079.47,539.03 1081.21,540.23 1082.95,541.37 1084.69,542.46 1086.43,543.53 1088.17,544.57 1089.91,545.59 1091.65,546.59 1093.39,547.56 1095.13,548.51 1096.87,549.43 1098.61,550.33 1100.35,551.21 1102.09,552.06 1103.83,552.89 1105.57,553.7 1107.31,554.48 1109.05,555.24 1110.8,555.97 1112.54,556.68 1114.28,557.36 1116.02,558.02 1117.76,558.66 1119.5,559.27 1121.24,559.86 1122.98,560.44 1124.72,561 1126.46,561.54 1128.2,562.06 1129.94,562.57 1131.68,563.07 1133.42,563.55 1135.16,564.03 1136.9,564.48 1138.64,564.93 1140.38,565.37 1142.12,565.8 1143.86,566.21 1145.61,566.62 1147.35,567.01 1149.09,567.4 1150.83,567.78 1152.57,568.15 1154.31,568.51 1156.05,568.88 1157.79,569.23 1159.53,569.59 1161.27,569.94 1163.01,570.28 1164.75,570.62 1166.49,570.95 1168.23,571.27 1169.97,571.59 1171.71,571.89 1173.45,572.18 1175.19,572.47 1176.93,572.74 1178.67,573 1180.42,573.24 1182.16,573.47 1183.9,573.69 1185.64,573.89 1187.38,574.08 1189.12,574.25 1190.86,574.42 1192.6,574.58 1194.34,574.73 1196.08,574.88 1197.82,575.03 1199.56,575.16 1201.3,575.3 1203.04,575.43 1204.78,575.56 1206.52,575.68 1208.26,575.8 1210,575.91 1211.74,576.02 1213.48,576.13 1215.22,576.24 1216.97,576.34 1218.71,576.45 1220.45,576.54 1222.19,576.64 1223.93,576.74 1225.67,576.83 1227.41,576.92 1229.15,577.01 1230.89,577.1 1232.63,577.18 1234.37,577.27 1236.11,577.35 1237.85,577.44 1239.59,577.52 1241.33,577.6 1243.07,577.67 1244.81,577.75 1246.55,577.82 1248.29,577.89 1250.03,577.96 1251.78,578.02 1253.52,578.09 1255.26,578.15 1257,578.2 1258.74,578.26 1260.48,578.31 1262.22,578.36 1263.96,578.4 1265.7,578.45 1267.44,578.48 1269.18,578.52 1269.18,579 1267.44,579 1265.7,579 1263.96,579 1262.22,579 1260.48,579 1258.74,579 1257,579 1255.26,579 1253.52,579 1251.78,579 1250.03,579 1248.29,578.96 1246.55,578.91 1244.81,578.86 1243.07,578.8 1241.33,578.75 1239.59,578.69 1237.85,578.64 1236.11,578.58 1234.37,578.52 1232.63,578.46 1230.89,578.4 1229.15,578.34 1227.41,578.28 1225.67,578.22 1223.93,578.16 1222.19,578.1 1220.45,578.03 1218.71,577.96 1216.97,577.9 1215.22,577.83 1213.48,577.75 1211.74,577.68 1210,577.6 1208.26,577.52 1206.52,577.43 1204.78,577.35 1203.04,577.26 1201.3,577.16 1199.56,577.06 1197.82,576.96 1196.08,576.85 1194.34,576.74 1192.6,576.63 1190.86,576.51 1189.12,576.39 1187.38,576.26 1185.64,576.13 1183.9,575.98 1182.16,575.81 1180.42,575.64 1178.67,575.45 1176.93,575.25 1175.19,575.04 1173.45,574.81 1171.71,574.58 1169.97,574.35 1168.23,574.1 1166.49,573.85 1164.75,573.59 1163.01,573.32 1161.27,573.05 1159.53,572.78 1157.79,572.5 1156.05,572.22 1154.31,571.94 1152.57,571.66 1150.83,571.37 1149.09,571.08 1147.35,570.78 1145.61,570.47 1143.86,570.15 1142.12,569.83 1140.38,569.49 1138.64,569.15 1136.9,568.8 1135.16,568.44 1133.42,568.07 1131.68,567.68 1129.94,567.29 1128.2,566.88 1126.46,566.46 1124.72,566.04 1122.98,565.6 1121.24,565.15 1119.5,564.69 1117.76,564.22 1116.02,563.74 1114.28,563.23 1112.54,562.7 1110.8,562.15 1109.05,561.59 1107.31,561 1105.57,560.39 1103.83,559.77 1102.09,559.12 1100.35,558.45 1098.61,557.76 1096.87,557.05 1095.13,556.32 1093.39,555.56 1091.65,554.79 1089.91,553.99 1088.17,553.17 1086.43,552.32 1084.69,551.46 1082.95,550.56 1081.21,549.62 1079.47,548.63 1077.73,547.58 1075.99,546.48 1074.24,545.33 1072.5,544.14 1070.76,542.9 1069.02,541.63 1067.28,540.31 1065.54,538.97 1063.8,537.59 1062.06,536.17 1060.32,534.74 1058.58,533.27 1056.84,531.79 1055.1,530.28 1053.36,528.76 1051.62,527.23 1049.88,525.68 1048.14,524.11 1046.4,522.49 1044.66,520.83 1042.92,519.12 1041.18,517.37 1039.44,515.58 1037.69,513.75 1035.95,511.89 1034.21,510.02 1032.47,508.13 1030.73,506.22 1028.99,504.3 1027.25,502.37 1025.51,500.43 1023.77,498.47 1022.03,496.5 1020.29,494.51 1018.55,492.52 1016.81,490.52 1015.07,488.51 1013.33,486.39 1011.59,484.08 1009.85,481.61 1008.11,479.01 1006.37,476.32 1004.63,473.57 1002.88,470.81 1001.14,468.06 999.4,465.41 997.66,462.87 995.92,460.49 994.18,458.29 992.44,456.3 990.7,454.55 988.96,453.08 987.22,451.91 985.48,450.78 983.74,449.63 982,448.51 980.26,447.47 978.52,446.55 976.78,445.8 975.04,445.27 973.3,445.01 971.56,445.09 969.82,445.46 968.07,446.05 966.33,446.8 964.59,447.62 962.85,448.45 961.11,449.43 959.37,450.62 957.63,452.03 955.89,453.63 954.15,455.41 952.41,457.34 950.67,459.37 948.93,461.49 947.19,463.68 945.45,465.99 943.71,468.75 941.97,471.94 940.23,475.46 938.49,479.21 936.75,483.11 935.01,487.07 933.26,490.98 931.52,494.76 929.78,498.31 928.04,501.59 926.3,504.84 924.56,508.1 922.82,511.36 921.08,514.6 919.34,517.79 917.6,520.93 915.86,523.98 914.12,526.9 912.38,529.68 910.64,532.33 908.9,534.96 907.16,537.54 905.42,540.03 903.68,542.42 901.94,544.67 900.2,546.76 898.45,548.67 896.71,550.43 894.97,552.32 893.23,554.34 891.49,556.45 889.75,558.58 888.01,560.69 886.27,562.71 884.53,564.59 882.79,566.41 881.05,568.1 879.31,569.53 877.57,570.83 875.83,572.1 874.09,573.32 872.35,574.33 870.61,575 868.87,575.78 867.13,576.83 865.39,577.88 863.65,578.71 861.9,579 860.16,579 858.42,579 856.68,579 854.94,579 853.2,579" fill="#F8766D" fill-opacity="0.4" stroke="none"/>
<polyline points="853.2,579 854.94,575.02 856.68,570.92 858.42,566.67 860.16,561.72 861.9,556.79 863.65,553.16 865.39,550.71 867.13,548.55 868.87,546.99 870.61,546.35 872.35,546.34 874.09,546.34 875.83,546.34 877.57,546.34 879.31,546.19 881.05,545.76 882.79,545.15 884.53,544.49 886.27,543.78 888.01,542.92 889.75,541.93 891.49,540.81 893.23,539.59 894.97,538.27 896.71,536.87 898.45,535.4 900.2,533.76 901.94,531.91 903.68,529.89 905.42,527.71 907.16,525.4 908.9,523 910.64,520.51 912.38,517.97 914.12,515.28 915.86,512.42 917.6,509.41 919.34,506.26 921.08,503 922.82,499.66 924.56,496.25 926.3,492.8 928.04,489.33 929.78,485.8 931.52,481.98 933.26,477.9 935.01,473.68 936.75,469.41 938.49,465.18 940.23,461.1 941.97,457.26 943.71,453.76 945.45,450.7 947.19,448.11 948.93,445.67 950.67,443.32 952.41,441.1 954.15,439 955.89,437.07 957.63,435.31 959.37,433.74 961.11,432.38 962.85,431.25 964.59,430.28 966.33,429.33 968.07,428.47 969.82,427.79 971.56,427.36 973.3,427.25 975.04,427.51 976.78,428.09 978.52,428.96 980.26,430.04 982,431.29 983.74,432.66 985.48,434.09 987.22,435.53 988.96,437.04 990.7,438.85 992.44,440.95 994.18,443.3 995.92,445.85 997.66,448.58 999.4,451.45 1001.14,454.41 1002.88,457.44 1004.63,460.5 1006.37,463.54 1008.11,466.54 1009.85,469.45 1011.59,472.24 1013.33,474.88 1015.07,477.32 1016.81,479.65 1018.55,481.98 1020.29,484.29 1022.03,486.59 1023.77,488.86 1025.51,491.12 1027.25,493.35 1028.99,495.55 1030.73,497.73 1032.47,499.87 1034.21,501.99 1035.95,504.06 1037.69,506.1 1039.44,508.09 1041.18,510.04 1042.92,511.95 1044.66,513.8 1046.4,515.61 1048.14,517.36 1049.88,519.06 1051.62,520.74 1053.36,522.4 1055.1,524.04 1056.84,525.66 1058.58,527.26 1060.32,528.83 1062.06,530.37 1063.8,531.89 1065.54,533.37 1067.28,534.82 1069.02,536.24 1070.76,537.61 1072.5,538.95 1074.24,540.24 1075.99,541.48 1077.73,542.68 1079.47,543.83 1081.21,544.92 1082.95,545.97 1084.69,546.96 1086.43,547.92 1088.17,548.87 1089.91,549.79 1091.65,550.69 1093.39,551.56 1095.13,552.41 1096.87,553.24 1098.61,554.05 1100.35,554.83 1102.09,555.59 1103.83,556.33 1105.57,557.05 1107.31,557.74 1109.05,558.41 1110.8,559.06 1112.54,559.69 1114.28,560.3 1116.02,560.88 1117.76,561.44 1119.5,561.98 1121.24,562.51 1122.98,563.02 1124.72,563.52 1126.46,564 1128.2,564.47 1129.94,564.93 1131.68,565.38 1133.42,565.81 1135.16,566.23 1136.9,566.64 1138.64,567.04 1140.38,567.43 1142.12,567.81 1143.86,568.18 1145.61,568.54 1147.35,568.9 1149.09,569.24 1150.83,569.58 1152.57,569.9 1154.31,570.23 1156.05,570.55 1157.79,570.87 1159.53,571.18 1161.27,571.49 1163.01,571.8 1164.75,572.1 1166.49,572.4 1168.23,572.69 1169.97,572.97 1171.71,573.24 1173.45,573.5 1175.19,573.75 1176.93,573.99 1178.67,574.22 1180.42,574.44 1182.16,574.64 1183.9,574.83 1185.64,575.01 1187.38,575.17 1189.12,575.32 1190.86,575.46 1192.6,575.6 1194.34,575.74 1196.08,575.87 1197.82,575.99 1199.56,576.11 1201.3,576.23 1203.04,576.34 1204.78,576.45 1206.52,576.56 1208.26,576.66 1210,576.76 1211.74,576.85 1213.48,576.94 1215.22,577.03 1216.97,577.12 1218.71,577.2 1220.45,577.29 1222.19,577.37 1223.93,577.45 1225.67,577.52 1227.41,577.6 1229.15,577.68 1230.89,577.75 1232.63,577.82 1234.37,577.9 1236.11,577.97 1237.85,578.04 1239.59,578.1 1241.33,578.17 1243.07,578.24 1244.81,578.3 1246.55,578.36 1248.29,578.43 1250.03,578.48 1251.78,578.54 1253.52,578.6 1255.26,578.65 1257,578.7 1258.74,578.75 1260.48,578.8 1262.22,578.84 1263.96,578.89 1265.7,578.93 1267.44,578.96 1269.18,579" fill="none" stroke="#F8766D" stroke-width="3.3" stroke-linejoin="round"/>
<polygon points="1325.8,578.04 1327.56,577.98 1329.31,577.82 1331.07,577.55 1332.82,577.17 1334.58,576.65 1336.33,574.93 1338.09,569.93 1339.84,557.12 1341.6,541.69 1343.35,526.06 1345.11,511.69 1346.86,498.18 1348.62,484.25 1350.37,468.96 1352.13,452.99 1353.88,437.41 1355.64,422 1357.39,406.67 1359.15,391.29 1360.9,376.24 1362.66,362.54 1364.41,350 1366.17,339.02 1367.92,329.06 1369.68,320.07 1371.43,312.01 1373.19,304.65 1374.94,297.52 1376.7,290.54 1378.45,283.8 1380.21,277.35 1381.96,271.3 1383.72,265.71 1385.47,260.65 1387.23,256.21 1388.99,252.47 1390.74,249.48 1392.5,247.17 1394.25,245.47 1396.01,244.27 1397.76,243.49 1399.52,243.02 1401.27,242.77 1403.03,242.75 1404.78,242.82 1406.54,242.79 1408.29,242.48 1410.05,241.65 1411.8,240.34 1413.56,238.64 1415.31,236.65 1417.07,234.48 1418.82,232.23 1420.58,230 1422.33,227.89 1424.09,226 1425.84,224.38 1427.6,222.67 1429.35,220.8 1431.11,218.87 1432.86,216.98 1434.62,215.22 1436.37,213.7 1438.13,212.5 1439.88,211.72 1441.64,211.46 1443.39,211.78 1445.15,212.48 1446.91,213.44 1448.66,214.63 1450.42,215.99 1452.17,217.47 1453.93,219.13 1455.68,221.68 1457.44,225.15 1459.19,229.37 1460.95,234.13 1462.7,239.24 1464.46,244.5 1466.21,249.74 1467.97,254.82 1469.72,260.25 1471.48,266.06 1473.23,272.11 1474.99,278.29 1476.74,284.47 1478.5,290.52 1480.25,296.31 1482.01,301.76 1483.76,307.02 1485.52,312.17 1487.27,317.23 1489.03,322.23 1490.78,327.2 1492.54,332.15 1494.29,337.12 1496.05,342.14 1497.8,347.22 1499.56,352.39 1501.31,357.71 1503.07,363.15 1504.82,368.66 1506.58,374.17 1508.34,379.62 1510.09,384.95 1511.85,390.1 1513.6,395.01 1515.36,399.61 1517.11,403.9 1518.87,407.99 1520.62,411.99 1522.38,415.9 1524.13,419.72 1525.89,423.47 1527.64,427.13 1529.4,430.71 1531.15,434.22 1532.91,437.66 1534.66,441.02 1536.42,444.32 1538.17,447.56 1539.93,450.73 1541.68,453.84 1543.44,456.89 1545.19,459.89 1546.95,462.83 1548.7,465.73 1550.46,468.58 1552.21,471.38 1553.97,474.16 1555.72,476.92 1557.48,479.66 1559.23,482.38 1560.99,485.06 1562.74,487.71 1564.5,490.33 1566.25,492.9 1568.01,495.42 1569.77,497.89 1571.52,500.31 1573.28,502.66 1575.03,504.95 1576.79,507.17 1578.54,509.32 1580.3,511.4 1582.05,513.39 1583.81,515.29 1585.56,517.1 1587.32,518.82 1589.07,520.48 1590.83,522.08 1592.58,523.63 1594.34,525.14 1596.09,526.6 1597.85,528.03 1599.6,529.41 1601.36,530.76 1603.11,532.08 1604.87,533.36 1606.62,534.61 1608.38,535.84 1610.13,537.04 1611.89,538.22 1613.64,539.37 1615.4,540.52 1617.15,541.64 1618.91,542.75 1620.66,543.85 1622.42,544.95 1624.17,546.03 1625.93,547.12 1627.68,548.21 1629.44,549.29 1631.2,550.36 1632.95,551.42 1634.71,552.47 1636.46,553.51 1638.22,554.52 1639.97,555.51 1641.73,556.48 1643.48,557.41 1645.24,558.32 1646.99,559.2 1648.75,560.04 1650.5,560.84 1652.26,561.6 1654.01,562.31 1655.77,562.98 1657.52,563.59 1659.28,564.17 1661.03,564.74 1662.79,565.29 1664.54,565.82 1666.3,566.34 1668.05,566.84 1669.81,567.33 1671.56,567.8 1673.32,568.25 1675.07,568.69 1676.83,569.11 1678.58,569.51 1680.34,569.89 1682.09,570.26 1683.85,570.61 1685.6,570.95 1687.36,571.26 1689.12,571.56 1690.87,571.84 1692.63,572.1 1694.38,572.35 1696.14,572.59 1697.89,572.84 1699.65,573.08 1701.4,573.33 1703.16,573.56 1704.91,573.8 1706.67,574.03 1708.42,574.26 1710.18,574.48 1711.93,574.7 1713.69,574.91 1715.44,575.11 1717.2,575.31 1718.95,575.5 1720.71,575.68 1722.46,575.85 1724.22,576.01 1725.97,576.17 1727.73,576.31 1729.48,576.44 1731.24,576.57 1732.99,576.68 1734.75,576.77 1736.5,576.86 1738.26,576.93 1740.01,576.99 1741.77,577.04 1743.52,577.06 1745.28,577.08 1745.28,578.04 1743.52,578.04 1741.77,578.03 1740.01,578 1738.26,577.96 1736.5,577.92 1734.75,577.86 1732.99,577.79 1731.24,577.71 1729.48,577.62 1727.73,577.52 1725.97,577.41 1724.22,577.3 1722.46,577.18 1720.71,577.05 1718.95,576.91 1717.2,576.76 1715.44,576.62 1713.69,576.46 1711.93,576.3 1710.18,576.14 1708.42,575.97 1706.67,575.8 1704.91,575.62 1703.16,575.44 1701.4,575.26 1699.65,575.08 1697.89,574.9 1696.14,574.71 1694.38,574.53 1692.63,574.34 1690.87,574.15 1689.12,573.93 1687.36,573.7 1685.6,573.45 1683.85,573.19 1682.09,572.9 1680.34,572.6 1678.58,572.29 1676.83,571.95 1675.07,571.6 1673.32,571.24 1671.56,570.86 1669.81,570.47 1668.05,570.07 1666.3,569.65 1664.54,569.22 1662.79,568.78 1661.03,568.32 1659.28,567.86 1657.52,567.38 1655.77,566.86 1654.01,566.3 1652.26,565.7 1650.5,565.05 1648.75,564.36 1646.99,563.64 1645.24,562.88 1643.48,562.09 1641.73,561.28 1639.97,560.44 1638.22,559.57 1636.46,558.69 1634.71,557.79 1632.95,556.87 1631.2,555.94 1629.44,555.01 1627.68,554.06 1625.93,553.12 1624.17,552.17 1622.42,551.23 1620.66,550.28 1618.91,549.32 1617.15,548.36 1615.4,547.38 1613.64,546.39 1611.89,545.38 1610.13,544.35 1608.38,543.3 1606.62,542.23 1604.87,541.13 1603.11,540.01 1601.36,538.86 1599.6,537.67 1597.85,536.45 1596.09,535.2 1594.34,533.9 1592.58,532.57 1590.83,531.2 1589.07,529.78 1587.32,528.31 1585.56,526.78 1583.81,525.16 1582.05,523.46 1580.3,521.67 1578.54,519.81 1576.79,517.87 1575.03,515.86 1573.28,513.79 1571.52,511.66 1569.77,509.48 1568.01,507.24 1566.25,504.96 1564.5,502.64 1562.74,500.28 1560.99,497.88 1559.23,495.46 1557.48,493.02 1555.72,490.55 1553.97,488.07 1552.21,485.57 1550.46,483.05 1548.7,480.5 1546.95,477.91 1545.19,475.27 1543.44,472.59 1541.68,469.87 1539.93,467.1 1538.17,464.28 1536.42,461.41 1534.66,458.49 1532.91,455.52 1531.15,452.49 1529.4,449.41 1527.64,446.28 1525.89,443.08 1524.13,439.83 1522.38,436.51 1520.62,433.13 1518.87,429.69 1517.11,426.18 1515.36,422.5 1513.6,418.56 1511.85,414.46 1510.09,410.24 1508.34,405.97 1506.58,401.68 1504.82,397.42 1503.07,393.25 1501.31,389.21 1499.56,385.35 1497.8,381.67 1496.05,378.11 1494.29,374.63 1492.54,371.19 1490.78,367.76 1489.03,364.29 1487.27,360.74 1485.52,357.09 1483.76,353.28 1482.01,349.28 1480.25,345.02 1478.5,340.42 1476.74,335.57 1474.99,330.57 1473.23,325.55 1471.48,320.6 1469.72,315.85 1467.97,311.4 1466.21,307.2 1464.46,302.76 1462.7,298.22 1460.95,293.78 1459.19,289.65 1457.44,286.02 1455.68,283.12 1453.93,281.13 1452.17,280.05 1450.42,279.16 1448.66,278.42 1446.91,277.9 1445.15,277.66 1443.39,277.76 1441.64,278.31 1439.88,279.51 1438.13,281.27 1436.37,283.49 1434.62,286.05 1432.86,288.85 1431.11,291.77 1429.35,294.72 1427.6,297.57 1425.84,300.23 1424.09,302.72 1422.33,305.41 1420.58,308.26 1418.82,311.18 1417.07,314.08 1415.31,316.87 1413.56,319.47 1411.8,321.79 1410.05,323.75 1408.29,325.25 1406.54,326.29 1404.78,327.11 1403.03,327.91 1401.27,328.9 1399.52,330.39 1397.76,332.72 1396.01,335.66 1394.25,338.94 1392.5,342.3 1390.74,345.48 1388.99,348.47 1387.23,351.99 1385.47,356.02 1383.72,360.51 1381.96,365.4 1380.21,370.62 1378.45,376.1 1376.7,381.79 1374.94,387.62 1373.19,393.52 1371.43,399.6 1369.68,406.32 1367.92,413.51 1366.17,421.03 1364.41,429.06 1362.66,438.27 1360.9,448.39 1359.15,459.73 1357.39,471.39 1355.64,483.12 1353.88,495.17 1352.13,507.76 1350.37,520.99 1348.62,533.54 1346.86,544.48 1345.11,554.49 1343.35,564.6 1341.6,572.79 1339.84,577.69 1338.09,579 1336.33,579 1334.58,579 1332.82,579 1331.07,579 1329.31,579 1327.56,579 1325.8,579" fill="#00BFC4" fill-opacity="0.4" stroke="none"/>
<polyline points="1325.8,579 1327.56,579 1329.31,579 1331.07,579 1332.82,579 1334.58,578.96 1336.33,577.82 1338.09,575.34 1339.84,567.4 1341.6,557.24 1343.35,545.33 1345.11,533.09 1346.86,521.33 1348.62,508.9 1350.37,494.97 1352.13,480.38 1353.88,466.29 1355.64,452.56 1357.39,439.03 1359.15,425.51 1360.9,412.31 1362.66,400.4 1364.41,389.53 1366.17,380.03 1367.92,371.28 1369.68,363.2 1371.43,355.8 1373.19,349.09 1374.94,342.57 1376.7,336.16 1378.45,329.95 1380.21,323.99 1381.96,318.35 1383.72,313.11 1385.47,308.34 1387.23,304.1 1388.99,300.47 1390.74,297.48 1392.5,294.73 1394.25,292.2 1396.01,289.97 1397.76,288.11 1399.52,286.71 1401.27,285.83 1403.03,285.33 1404.78,284.96 1406.54,284.54 1408.29,283.87 1410.05,282.7 1411.8,281.06 1413.56,279.05 1415.31,276.76 1417.07,274.28 1418.82,271.7 1420.58,269.13 1422.33,266.65 1424.09,264.36 1425.84,262.31 1427.6,260.12 1429.35,257.76 1431.11,255.32 1432.86,252.91 1434.62,250.64 1436.37,248.59 1438.13,246.88 1439.88,245.61 1441.64,244.88 1443.39,244.77 1445.15,245.07 1446.91,245.67 1448.66,246.52 1450.42,247.57 1452.17,248.76 1453.93,250.13 1455.68,252.4 1457.44,255.59 1459.19,259.51 1460.95,263.95 1462.7,268.73 1464.46,273.63 1466.21,278.47 1467.97,283.11 1469.72,288.05 1471.48,293.33 1473.23,298.83 1474.99,304.43 1476.74,310.02 1478.5,315.47 1480.25,320.67 1482.01,325.52 1483.76,330.15 1485.52,334.63 1487.27,338.99 1489.03,343.26 1490.78,347.48 1492.54,351.67 1494.29,355.88 1496.05,360.12 1497.8,364.44 1499.56,368.87 1501.31,373.46 1503.07,378.2 1504.82,383.04 1506.58,387.92 1508.34,392.79 1510.09,397.6 1511.85,402.28 1513.6,406.78 1515.36,411.05 1517.11,415.04 1518.87,418.84 1520.62,422.56 1522.38,426.2 1524.13,429.77 1525.89,433.27 1527.64,436.7 1529.4,440.06 1531.15,443.36 1532.91,446.59 1534.66,449.76 1536.42,452.87 1538.17,455.92 1539.93,458.91 1541.68,461.85 1543.44,464.74 1545.19,467.58 1546.95,470.37 1548.7,473.11 1550.46,475.82 1552.21,478.47 1553.97,481.11 1555.72,483.73 1557.48,486.34 1559.23,488.92 1560.99,491.47 1562.74,494 1564.5,496.48 1566.25,498.93 1568.01,501.33 1569.77,503.68 1571.52,505.98 1573.28,508.23 1575.03,510.41 1576.79,512.52 1578.54,514.56 1580.3,516.53 1582.05,518.42 1583.81,520.23 1585.56,521.94 1587.32,523.57 1589.07,525.13 1590.83,526.64 1592.58,528.1 1594.34,529.52 1596.09,530.9 1597.85,532.24 1599.6,533.54 1601.36,534.81 1603.11,536.04 1604.87,537.25 1606.62,538.42 1608.38,539.57 1610.13,540.69 1611.89,541.8 1613.64,542.88 1615.4,543.95 1617.15,545 1618.91,546.04 1620.66,547.07 1622.42,548.09 1624.17,549.1 1625.93,550.12 1627.68,551.14 1629.44,552.15 1631.2,553.15 1632.95,554.15 1634.71,555.13 1636.46,556.1 1638.22,557.05 1639.97,557.97 1641.73,558.88 1643.48,559.75 1645.24,560.6 1646.99,561.42 1648.75,562.2 1650.5,562.94 1652.26,563.65 1654.01,564.31 1655.77,564.92 1657.52,565.49 1659.28,566.01 1661.03,566.53 1662.79,567.03 1664.54,567.52 1666.3,567.99 1668.05,568.45 1669.81,568.9 1671.56,569.33 1673.32,569.75 1675.07,570.15 1676.83,570.53 1678.58,570.9 1680.34,571.25 1682.09,571.58 1683.85,571.9 1685.6,572.2 1687.36,572.48 1689.12,572.75 1690.87,572.99 1692.63,573.22 1694.38,573.44 1696.14,573.65 1697.89,573.87 1699.65,574.08 1701.4,574.29 1703.16,574.5 1704.91,574.71 1706.67,574.91 1708.42,575.11 1710.18,575.31 1711.93,575.5 1713.69,575.68 1715.44,575.86 1717.2,576.04 1718.95,576.2 1720.71,576.36 1722.46,576.51 1724.22,576.66 1725.97,576.79 1727.73,576.92 1729.48,577.03 1731.24,577.14 1732.99,577.23 1734.75,577.32 1736.5,577.39 1738.26,577.45 1740.01,577.5 1741.77,577.53 1743.52,577.55 1745.28,577.56" fill="none" stroke="#00BFC4" stroke-width="3.3" stroke-linejoin="round"/>
<polygon points="1325.8,578.04 1327.56,577.98 1329.31,577.81 1331.07,577.53 1332.82,577.13 1334.58,576.63 1336.33,576.02 1338.09,574.41 1339.84,570.17 1341.6,560.14 1343.35,544.82 1345.11,526.22 1346.86,509.7 1348.62,493.66 1350.37,477.06 1352.13,462.77 1353.88,452.34 1355.64,444.94 1357.39,438.82 1359.15,433.36 1360.9,428.06 1362.66,423.47 1364.41,419.4 1366.17,414.64 1367.92,408.64 1369.68,404.25 1371.43,402.48 1373.19,401.53 1374.94,400.8 1376.7,399.7 1378.45,398.12 1380.21,396.29 1381.96,394.37 1383.72,392.55 1385.47,390.99 1387.23,389.87 1388.99,389.21 1390.74,388.78 1392.5,388.49 1394.25,388.23 1396.01,387.93 1397.76,387.49 1399.52,386.82 1401.27,386.06 1403.03,385.31 1404.78,384.46 1406.54,383.43 1408.29,382.13 1410.05,380.31 1411.8,377.68 1413.56,374.54 1415.31,371.2 1417.07,367.96 1418.82,365.07 1420.58,362.25 1422.33,359.43 1424.09,356.61 1425.84,353.83 1427.6,351.1 1429.35,348.42 1431.11,345.56 1432.86,342.5 1434.62,339.33 1436.37,336.12 1438.13,332.96 1439.88,329.92 1441.64,327.09 1443.39,324.54 1445.15,322.35 1446.91,320.61 1448.66,319.39 1450.42,318.77 1452.17,318.8 1453.93,319.37 1455.68,320.4 1457.44,321.81 1459.19,323.52 1460.95,325.45 1462.7,327.51 1464.46,329.72 1466.21,332.63 1467.97,336.27 1469.72,340.48 1471.48,345.12 1473.23,350.03 1474.99,355.06 1476.74,360.06 1478.5,364.88 1480.25,369.37 1482.01,373.46 1483.76,377.47 1485.52,381.49 1487.27,385.51 1489.03,389.51 1490.78,393.51 1492.54,397.48 1494.29,401.43 1496.05,405.35 1497.8,409.24 1499.56,413.08 1501.31,416.87 1503.07,420.61 1504.82,424.28 1506.58,427.9 1508.34,431.44 1510.09,434.9 1511.85,438.28 1513.6,441.58 1515.36,444.78 1517.11,447.88 1518.87,450.92 1520.62,453.92 1522.38,456.86 1524.13,459.76 1525.89,462.61 1527.64,465.42 1529.4,468.18 1531.15,470.9 1532.91,473.57 1534.66,476.2 1536.42,478.78 1538.17,481.32 1539.93,483.82 1541.68,486.28 1543.44,488.69 1545.19,491.06 1546.95,493.4 1548.7,495.69 1550.46,497.94 1552.21,500.15 1553.97,502.34 1555.72,504.53 1557.48,506.7 1559.23,508.86 1560.99,510.99 1562.74,513.11 1564.5,515.2 1566.25,517.25 1568.01,519.28 1569.77,521.26 1571.52,523.19 1573.28,525.09 1575.03,526.92 1576.79,528.71 1578.54,530.43 1580.3,532.09 1582.05,533.68 1583.81,535.2 1585.56,536.64 1587.32,538 1589.07,539.32 1590.83,540.59 1592.58,541.84 1594.34,543.05 1596.09,544.23 1597.85,545.38 1599.6,546.49 1601.36,547.57 1603.11,548.62 1604.87,549.64 1606.62,550.63 1608.38,551.59 1610.13,552.52 1611.89,553.42 1613.64,554.3 1615.4,555.15 1617.15,555.98 1618.91,556.77 1620.66,557.55 1622.42,558.29 1624.17,559.02 1625.93,559.74 1627.68,560.45 1629.44,561.15 1631.2,561.83 1632.95,562.5 1634.71,563.16 1636.46,563.8 1638.22,564.42 1639.97,565.02 1641.73,565.61 1643.48,566.17 1645.24,566.71 1646.99,567.23 1648.75,567.73 1650.5,568.2 1652.26,568.65 1654.01,569.06 1655.77,569.46 1657.52,569.82 1659.28,570.16 1661.03,570.49 1662.79,570.81 1664.54,571.12 1666.3,571.43 1668.05,571.73 1669.81,572.01 1671.56,572.29 1673.32,572.56 1675.07,572.82 1676.83,573.07 1678.58,573.31 1680.34,573.55 1682.09,573.77 1683.85,573.98 1685.6,574.18 1687.36,574.38 1689.12,574.56 1690.87,574.73 1692.63,574.89 1694.38,575.04 1696.14,575.18 1697.89,575.31 1699.65,575.44 1701.4,575.57 1703.16,575.69 1704.91,575.82 1706.67,575.94 1708.42,576.06 1710.18,576.18 1711.93,576.29 1713.69,576.4 1715.44,576.51 1717.2,576.61 1718.95,576.72 1720.71,576.81 1722.46,576.9 1724.22,576.99 1725.97,577.07 1727.73,577.15 1729.48,577.22 1731.24,577.28 1732.99,577.34 1734.75,577.4 1736.5,577.44 1738.26,577.48 1740.01,577.51 1741.77,577.54 1743.52,577.55 1745.28,577.56 1745.28,578.52 1743.52,578.52 1741.77,578.51 1740.01,578.5 1738.26,578.49 1736.5,578.46 1734.75,578.44 1732.99,578.4 1731.24,578.36 1729.48,578.32 1727.73,578.27 1725.97,578.22 1724.22,578.17 1722.46,578.11 1720.71,578.05 1718.95,577.98 1717.2,577.91 1715.44,577.84 1713.69,577.77 1711.93,577.69 1710.18,577.62 1708.42,577.54 1706.67,577.46 1704.91,577.37 1703.16,577.29 1701.4,577.21 1699.65,577.12 1697.89,577.04 1696.14,576.95 1694.38,576.85 1692.63,576.75 1690.87,576.63 1689.12,576.51 1687.36,576.37 1685.6,576.22 1683.85,576.07 1682.09,575.9 1680.34,575.73 1678.58,575.55 1676.83,575.35 1675.07,575.15 1673.32,574.94 1671.56,574.73 1669.81,574.5 1668.05,574.27 1666.3,574.03 1664.54,573.79 1662.79,573.53 1661.03,573.28 1659.28,573.01 1657.52,572.74 1655.77,572.45 1654.01,572.13 1652.26,571.78 1650.5,571.41 1648.75,571.02 1646.99,570.6 1645.24,570.16 1643.48,569.7 1641.73,569.22 1639.97,568.72 1638.22,568.21 1636.46,567.68 1634.71,567.13 1632.95,566.57 1631.2,565.99 1629.44,565.41 1627.68,564.81 1625.93,564.21 1624.17,563.59 1622.42,562.97 1620.66,562.33 1618.91,561.66 1617.15,560.98 1615.4,560.27 1613.64,559.53 1611.89,558.77 1610.13,557.99 1608.38,557.18 1606.62,556.34 1604.87,555.48 1603.11,554.6 1601.36,553.69 1599.6,552.76 1597.85,551.8 1596.09,550.82 1594.34,549.81 1592.58,548.77 1590.83,547.71 1589.07,546.62 1587.32,545.51 1585.56,544.34 1583.81,543.11 1582.05,541.8 1580.3,540.43 1578.54,538.99 1576.79,537.49 1575.03,535.93 1573.28,534.33 1571.52,532.67 1569.77,530.97 1568.01,529.23 1566.25,527.45 1564.5,525.64 1562.74,523.8 1560.99,521.93 1559.23,520.05 1557.48,518.14 1555.72,516.22 1553.97,514.3 1552.21,512.36 1550.46,510.42 1548.7,508.44 1546.95,506.42 1545.19,504.37 1543.44,502.28 1541.68,500.15 1539.93,497.99 1538.17,495.8 1536.42,493.57 1534.66,491.3 1532.91,488.99 1531.15,486.65 1529.4,484.27 1527.64,481.86 1525.89,479.4 1524.13,476.91 1522.38,474.38 1520.62,471.82 1518.87,469.21 1517.11,466.57 1515.36,463.87 1513.6,461.1 1511.85,458.26 1510.09,455.36 1508.34,452.4 1506.58,449.39 1504.82,446.33 1503.07,443.22 1501.31,440.07 1499.56,436.87 1497.8,433.64 1496.05,430.38 1494.29,427.09 1492.54,423.77 1490.78,420.42 1489.03,417.06 1487.27,413.68 1485.52,410.29 1483.76,406.88 1482.01,403.47 1480.25,399.98 1478.5,396.09 1476.74,391.94 1474.99,387.65 1473.23,383.37 1471.48,379.23 1469.72,375.38 1467.97,371.94 1466.21,369.07 1464.46,366.88 1462.7,365.37 1460.95,363.93 1459.19,362.56 1457.44,361.33 1455.68,360.3 1453.93,359.54 1452.17,359.12 1450.42,359.1 1448.66,359.68 1446.91,360.83 1445.15,362.46 1443.39,364.5 1441.64,366.89 1439.88,369.55 1438.13,372.41 1436.37,375.38 1434.62,378.41 1432.86,381.41 1431.11,384.31 1429.35,387.05 1427.6,389.62 1425.84,392.27 1424.09,395.03 1422.33,397.91 1420.58,400.93 1418.82,404.08 1417.07,407.43 1415.31,411.23 1413.56,415.24 1411.8,419.13 1410.05,422.57 1408.29,425.27 1406.54,427.48 1404.78,429.46 1403.03,431.28 1401.27,433.01 1399.52,434.74 1397.76,436.46 1396.01,438.12 1394.25,439.79 1392.5,441.52 1390.74,443.37 1388.99,445.4 1387.23,447.68 1385.47,450.49 1383.72,453.85 1381.96,457.57 1380.21,461.44 1378.45,465.27 1376.7,468.88 1374.94,472.01 1373.19,474.75 1371.43,477.67 1369.68,481.35 1367.92,487.97 1366.17,496.42 1364.41,503.45 1362.66,509.22 1360.9,514.5 1359.15,519.81 1357.39,525.27 1355.64,531.38 1353.88,538.79 1352.13,546.5 1350.37,553.64 1348.62,560.87 1346.86,567.59 1345.11,573.54 1343.35,579 1341.6,579 1339.84,579 1338.09,579 1336.33,579 1334.58,579 1332.82,579 1331.07,579 1329.31,579 1327.56,579 1325.8,579" fill="#F8766D" fill-opacity="0.4" stroke="none"/>
<polyline points="1325.8,579 1327.56,579 1329.31,579 1331.07,579 1332.82,579 1334.58,579 1336.33,579 1338.09,578.11 1339.84,575.9 1341.6,570.78 1343.35,561.92 1345.11,549.88 1346.86,538.64 1348.62,527.26 1350.37,515.35 1352.13,504.64 1353.88,495.56 1355.64,488.16 1357.39,482.05 1359.15,476.58 1360.9,471.28 1362.66,466.34 1364.41,461.43 1366.17,455.53 1367.92,448.31 1369.68,442.8 1371.43,440.07 1373.19,438.14 1374.94,436.4 1376.7,434.29 1378.45,431.7 1380.21,428.86 1381.96,425.97 1383.72,423.2 1385.47,420.74 1387.23,418.78 1388.99,417.31 1390.74,416.07 1392.5,415 1394.25,414.01 1396.01,413.03 1397.76,411.98 1399.52,410.78 1401.27,409.54 1403.03,408.29 1404.78,406.96 1406.54,405.46 1408.29,403.7 1410.05,401.44 1411.8,398.4 1413.56,394.89 1415.31,391.21 1417.07,387.69 1418.82,384.57 1420.58,381.59 1422.33,378.67 1424.09,375.82 1425.84,373.05 1427.6,370.36 1429.35,367.74 1431.11,364.94 1432.86,361.96 1434.62,358.87 1436.37,355.75 1438.13,352.68 1439.88,349.74 1441.64,346.99 1443.39,344.52 1445.15,342.41 1446.91,340.72 1448.66,339.54 1450.42,338.94 1452.17,338.96 1453.93,339.46 1455.68,340.35 1457.44,341.57 1459.19,343.04 1460.95,344.69 1462.7,346.44 1464.46,348.3 1466.21,350.85 1467.97,354.11 1469.72,357.93 1471.48,362.18 1473.23,366.7 1474.99,371.35 1476.74,376 1478.5,380.49 1480.25,384.67 1482.01,388.47 1483.76,392.18 1485.52,395.89 1487.27,399.59 1489.03,403.29 1490.78,406.97 1492.54,410.62 1494.29,414.26 1496.05,417.87 1497.8,421.44 1499.56,424.97 1501.31,428.47 1503.07,431.91 1504.82,435.31 1506.58,438.64 1508.34,441.92 1510.09,445.13 1511.85,448.27 1513.6,451.34 1515.36,454.32 1517.11,457.23 1518.87,460.07 1520.62,462.87 1522.38,465.62 1524.13,468.34 1525.89,471.01 1527.64,473.64 1529.4,476.23 1531.15,478.77 1532.91,481.28 1534.66,483.75 1536.42,486.17 1538.17,488.56 1539.93,490.91 1541.68,493.22 1543.44,495.49 1545.19,497.72 1546.95,499.91 1548.7,502.06 1550.46,504.18 1552.21,506.26 1553.97,508.32 1555.72,510.38 1557.48,512.42 1559.23,514.45 1560.99,516.46 1562.74,518.46 1564.5,520.42 1566.25,522.35 1568.01,524.25 1569.77,526.11 1571.52,527.93 1573.28,529.71 1575.03,531.43 1576.79,533.1 1578.54,534.71 1580.3,536.26 1582.05,537.74 1583.81,539.15 1585.56,540.49 1587.32,541.75 1589.07,542.97 1590.83,544.15 1592.58,545.31 1594.34,546.43 1596.09,547.52 1597.85,548.59 1599.6,549.62 1601.36,550.63 1603.11,551.61 1604.87,552.56 1606.62,553.49 1608.38,554.38 1610.13,555.25 1611.89,556.1 1613.64,556.92 1615.4,557.71 1617.15,558.48 1618.91,559.22 1620.66,559.94 1622.42,560.63 1624.17,561.31 1625.93,561.97 1627.68,562.63 1629.44,563.28 1631.2,563.91 1632.95,564.53 1634.71,565.14 1636.46,565.74 1638.22,566.31 1639.97,566.87 1641.73,567.41 1643.48,567.94 1645.24,568.44 1646.99,568.92 1648.75,569.37 1650.5,569.81 1652.26,570.21 1654.01,570.6 1655.77,570.95 1657.52,571.28 1659.28,571.58 1661.03,571.88 1662.79,572.17 1664.54,572.46 1666.3,572.73 1668.05,573 1669.81,573.26 1671.56,573.51 1673.32,573.75 1675.07,573.99 1676.83,574.21 1678.58,574.43 1680.34,574.64 1682.09,574.84 1683.85,575.02 1685.6,575.2 1687.36,575.37 1689.12,575.53 1690.87,575.68 1692.63,575.82 1694.38,575.95 1696.14,576.07 1697.89,576.18 1699.65,576.28 1701.4,576.39 1703.16,576.49 1704.91,576.6 1706.67,576.7 1708.42,576.8 1710.18,576.9 1711.93,576.99 1713.69,577.09 1715.44,577.18 1717.2,577.26 1718.95,577.35 1720.71,577.43 1722.46,577.51 1724.22,577.58 1725.97,577.65 1727.73,577.71 1729.48,577.77 1731.24,577.82 1732.99,577.87 1734.75,577.92 1736.5,577.95 1738.26,577.98 1740.01,578.01 1741.77,578.03 1743.52,578.04 1745.28,578.04" fill="none" stroke="#F8766D" stroke-width="3.3" stroke-linejoin="round"/>
<text x="348.5" y="842" font-size="57" text-anchor="start" fill="#000" font-family="'Liberation Sans', Arial, sans-serif">C</text>
<rect x="1340.5" y="867.6" width="107" height="45.7" fill="#C6E0B4"/>
<rect x="623" y="920.6" width="92" height="46" fill="#F8CBAD"/>
<rect x="1141" y="921" width="92" height="45.3" fill="#F8CBAD"/>
<line x1="415" y1="859.2" x2="1451" y2="859.2" stroke="#000" stroke-width="2" stroke-linecap="butt"/>
<line x1="497" y1="824" x2="497" y2="970" stroke="#000" stroke-width="2" stroke-linecap="butt"/>
<text x="425" y="850.8" font-size="32" text-anchor="start" fill="#000" font-family="Carlito, 'Liberation Sans', sans-serif" font-weight="700" textLength="45.42" lengthAdjust="spacingAndGlyphs">AKI</text>
<text x="425" y="900.2" font-size="32" text-anchor="start" fill="#000" font-family="Carlito, 'Liberation Sans', sans-serif" font-weight="700" textLength="44.16" lengthAdjust="spacingAndGlyphs">Pre</text>
<text x="425" y="953.6" font-size="32" text-anchor="start" fill="#000" font-family="Carlito, 'Liberation Sans', sans-serif" font-weight="700" textLength="57.22" lengthAdjust="spacingAndGlyphs">Post</text>
<text x="566" y="850.8" font-size="32" text-anchor="middle" fill="#000" font-family="Carlito, 'Liberation Sans', sans-serif" font-weight="700" textLength="74.16" lengthAdjust="spacingAndGlyphs">AQP2</text>
<text x="669" y="850.8" font-size="32" text-anchor="middle" fill="#000" font-family="Carlito, 'Liberation Sans', sans-serif" font-weight="700" textLength="85.77" lengthAdjust="spacingAndGlyphs">CD105</text>
<text x="772.5" y="850.8" font-size="32" text-anchor="middle" fill="#000" font-family="Carlito, 'Liberation Sans', sans-serif" font-weight="700" textLength="85.77" lengthAdjust="spacingAndGlyphs">CD143</text>
<text x="876" y="850.8" font-size="32" text-anchor="middle" fill="#000" font-family="Carlito, 'Liberation Sans', sans-serif" font-weight="700" textLength="85.77" lengthAdjust="spacingAndGlyphs">CD144</text>
<text x="979.5" y="850.8" font-size="32" text-anchor="middle" fill="#000" font-family="Carlito, 'Liberation Sans', sans-serif" font-weight="700" textLength="85.77" lengthAdjust="spacingAndGlyphs">CD284</text>
<text x="1082.9" y="850.8" font-size="32" text-anchor="middle" fill="#000" font-family="Carlito, 'Liberation Sans', sans-serif" font-weight="700" textLength="69.55" lengthAdjust="spacingAndGlyphs">CD29</text>
<text x="1186.4" y="850.8" font-size="32" text-anchor="middle" fill="#000" font-family="Carlito, 'Liberation Sans', sans-serif" font-weight="700" textLength="104.33" lengthAdjust="spacingAndGlyphs">HUTS21</text>
<text x="1290.4" y="850.8" font-size="32" text-anchor="middle" fill="#000" font-family="Carlito, 'Liberation Sans', sans-serif" font-weight="700" textLength="73.09" lengthAdjust="spacingAndGlyphs">NHE3</text>
<text x="1393" y="850.8" font-size="32" text-anchor="middle" fill="#000" font-family="Carlito, 'Liberation Sans', sans-serif" font-weight="700" textLength="89.2" lengthAdjust="spacingAndGlyphs">PODXL</text>
<text x="566" y="952.8" font-size="32" text-anchor="middle" fill="#000" font-family="Carlito, 'Liberation Sans', sans-serif" textLength="20.66" lengthAdjust="spacingAndGlyphs">N</text>
<text x="669" y="899.6" font-size="32" text-anchor="middle" fill="#000" font-family="Carlito, 'Liberation Sans', sans-serif" textLength="20.66" lengthAdjust="spacingAndGlyphs">N</text>
<text x="669" y="952.8" font-size="32" text-anchor="middle" fill="#000" font-family="Carlito, 'Liberation Sans', sans-serif" textLength="17.06" lengthAdjust="spacingAndGlyphs">C</text>
<text x="772.5" y="899.6" font-size="32" text-anchor="middle" fill="#000" font-family="Carlito, 'Liberation Sans', sans-serif" textLength="20.66" lengthAdjust="spacingAndGlyphs">N</text>
<text x="772.5" y="952.8" font-size="32" text-anchor="middle" fill="#000" font-family="Carlito, 'Liberation Sans', sans-serif" textLength="20.66" lengthAdjust="spacingAndGlyphs">N</text>
<text x="876" y="899.6" font-size="32" text-anchor="middle" fill="#000" font-family="Carlito, 'Liberation Sans', sans-serif" textLength="20.66" lengthAdjust="spacingAndGlyphs">N</text>
<text x="876" y="952.8" font-size="32" text-anchor="middle" fill="#000" font-family="Carlito, 'Liberation Sans', sans-serif" textLength="20.66" lengthAdjust="spacingAndGlyphs">N</text>
<text x="979.5" y="899.6" font-size="32" text-anchor="middle" fill="#000" font-family="Carlito, 'Liberation Sans', sans-serif" textLength="20.66" lengthAdjust="spacingAndGlyphs">N</text>
<text x="979.5" y="952.8" font-size="32" text-anchor="middle" fill="#000" font-family="Carlito, 'Liberation Sans', sans-serif" textLength="20.66" lengthAdjust="spacingAndGlyphs">N</text>
<text x="1082.9" y="899.6" font-size="32" text-anchor="middle" fill="#000" font-family="Carlito, 'Liberation Sans', sans-serif" textLength="20.66" lengthAdjust="spacingAndGlyphs">N</text>
<text x="1082.9" y="952.8" font-size="32" text-anchor="middle" fill="#000" font-family="Carlito, 'Liberation Sans', sans-serif" textLength="20.66" lengthAdjust="spacingAndGlyphs">N</text>
<text x="1186.4" y="899.6" font-size="32" text-anchor="middle" fill="#000" font-family="Carlito, 'Liberation Sans', sans-serif" textLength="20.66" lengthAdjust="spacingAndGlyphs">N</text>
<text x="1186.4" y="952.8" font-size="32" text-anchor="middle" fill="#000" font-family="Carlito, 'Liberation Sans', sans-serif" textLength="17.06" lengthAdjust="spacingAndGlyphs">C</text>
<text x="1290.4" y="952.8" font-size="32" text-anchor="middle" fill="#000" font-family="Carlito, 'Liberation Sans', sans-serif" textLength="20.66" lengthAdjust="spacingAndGlyphs">N</text>
<text x="1393" y="899.6" font-size="32" text-anchor="middle" fill="#000" font-family="Carlito, 'Liberation Sans', sans-serif" textLength="77.16" lengthAdjust="spacingAndGlyphs">U/P/C</text>
<text x="1393" y="952.8" font-size="32" text-anchor="middle" fill="#000" font-family="Carlito, 'Liberation Sans', sans-serif" textLength="20.66" lengthAdjust="spacingAndGlyphs">N</text>
<text x="306.5" y="1075.5" font-size="57" text-anchor="start" fill="#000" font-family="'Liberation Sans', Arial, sans-serif">D</text>
<text x="567.8" y="1061.7" font-size="35" text-anchor="middle" fill="#000" font-family="'Liberation Sans', Arial, sans-serif">PODXL</text>
<text transform="translate(347.3,1391) rotate(-90)" x="0" y="0" font-size="31.5" text-anchor="middle" fill="#000" font-family="'Liberation Sans', Arial, sans-serif">% of positive particles(ctrl adjusted)</text>
<path d="M429.5,1083 V1692 H699.4" fill="none" stroke="#000" stroke-width="3.6" stroke-linecap="butt" stroke-linejoin="miter"/>
<line x1="422.2" y1="1665.2" x2="427.7" y2="1665.2" stroke="#333333" stroke-width="3.2" stroke-linecap="butt"/>
<text x="421" y="1674.96" font-size="32" text-anchor="end" fill="#4D4D4D" font-family="'Liberation Sans', Arial, sans-serif">0.00</text>
<line x1="422.2" y1="1553.8" x2="427.7" y2="1553.8" stroke="#333333" stroke-width="3.2" stroke-linecap="butt"/>
<text x="421" y="1563.56" font-size="32" text-anchor="end" fill="#4D4D4D" font-family="'Liberation Sans', Arial, sans-serif">0.01</text>
<line x1="422.2" y1="1442.4" x2="427.7" y2="1442.4" stroke="#333333" stroke-width="3.2" stroke-linecap="butt"/>
<text x="421" y="1452.16" font-size="32" text-anchor="end" fill="#4D4D4D" font-family="'Liberation Sans', Arial, sans-serif">0.02</text>
<line x1="422.2" y1="1331" x2="427.7" y2="1331" stroke="#333333" stroke-width="3.2" stroke-linecap="butt"/>
<text x="421" y="1340.76" font-size="32" text-anchor="end" fill="#4D4D4D" font-family="'Liberation Sans', Arial, sans-serif">0.03</text>
<line x1="422.2" y1="1219.6" x2="427.7" y2="1219.6" stroke="#333333" stroke-width="3.2" stroke-linecap="butt"/>
<text x="421" y="1229.36" font-size="32" text-anchor="end" fill="#4D4D4D" font-family="'Liberation Sans', Arial, sans-serif">0.04</text>
<line x1="422.2" y1="1108.2" x2="427.7" y2="1108.2" stroke="#333333" stroke-width="3.2" stroke-linecap="butt"/>
<text x="421" y="1117.96" font-size="32" text-anchor="end" fill="#4D4D4D" font-family="'Liberation Sans', Arial, sans-serif">0.05</text>
<line x1="503.3" y1="1693.8" x2="503.3" y2="1699.3" stroke="#333333" stroke-width="3.2" stroke-linecap="butt"/>
<text x="500.8" y="1723.3" font-size="32" text-anchor="middle" fill="#4D4D4D" font-family="'Liberation Sans', Arial, sans-serif">Pre</text>
<line x1="626.4" y1="1693.8" x2="626.4" y2="1699.3" stroke="#333333" stroke-width="3.2" stroke-linecap="butt"/>
<text x="620.2" y="1723.3" font-size="32" text-anchor="middle" fill="#4D4D4D" font-family="'Liberation Sans', Arial, sans-serif">Post</text>
<line x1="577.35" y1="1141.85" x2="577.35" y2="1149.3" stroke="#F8766D" stroke-width="3.7" stroke-linecap="round"/>
<line x1="577.35" y1="1175.8" x2="577.35" y2="1183.15" stroke="#F8766D" stroke-width="3.7" stroke-linecap="round"/>
<rect x="557" y="1149.3" width="40.7" height="26.5" fill="none" stroke="#F8766D" stroke-width="3.7" stroke-linejoin="round"/>
<line x1="557" y1="1162.7" x2="597.7" y2="1162.7" stroke="#F8766D" stroke-width="3.7" stroke-linecap="butt"/>
<circle cx="577.35" cy="1162.7" r="7" fill="#F8766D"/>
<line x1="577.35" y1="1196.85" x2="577.35" y2="1204.3" stroke="#00BFC4" stroke-width="3.7" stroke-linecap="round"/>
<line x1="577.35" y1="1230.4" x2="577.35" y2="1238.75" stroke="#00BFC4" stroke-width="3.7" stroke-linecap="round"/>
<rect x="557" y="1204.3" width="40.7" height="26.1" fill="none" stroke="#00BFC4" stroke-width="3.7" stroke-linejoin="round"/>
<line x1="557" y1="1217.6" x2="597.7" y2="1217.6" stroke="#00BFC4" stroke-width="3.7" stroke-linecap="butt"/>
<circle cx="577.35" cy="1217.6" r="7" fill="#00BFC4"/>
<text x="622.5" y="1173" font-size="28" text-anchor="start" fill="#000" font-family="'Liberation Sans', Arial, sans-serif">no</text>
<text x="622.5" y="1227.2" font-size="28" text-anchor="start" fill="#000" font-family="'Liberation Sans', Arial, sans-serif">AKI</text>
<line x1="480.1" y1="1496.7" x2="480.1" y2="1540.4" stroke="#F8766D" stroke-width="3.4" stroke-linecap="butt"/>
<line x1="480.1" y1="1584" x2="480.1" y2="1631" stroke="#F8766D" stroke-width="3.4" stroke-linecap="butt"/>
<rect x="459.3" y="1540.4" width="41.6" height="43.6" fill="none" stroke="#F8766D" stroke-width="3.4" stroke-linejoin="round"/>
<line x1="459.3" y1="1558" x2="500.9" y2="1558" stroke="#F8766D" stroke-width="7" stroke-linecap="butt"/>
<circle cx="480.1" cy="1110.8" r="6" fill="#F8766D"/>
<circle cx="480.1" cy="1375.5" r="6" fill="#F8766D"/>
<circle cx="480.1" cy="1410.9" r="6" fill="#F8766D"/>
<circle cx="480.1" cy="1496.7" r="6" fill="#F8766D"/>
<circle cx="480.1" cy="1502" r="6" fill="#F8766D"/>
<circle cx="480.1" cy="1525" r="6" fill="#F8766D"/>
<circle cx="480.1" cy="1539.5" r="6" fill="#F8766D"/>
<circle cx="480.1" cy="1544.81" r="6" fill="#F8766D"/>
<circle cx="480.1" cy="1550.12" r="6" fill="#F8766D"/>
<circle cx="480.1" cy="1555.42" r="6" fill="#F8766D"/>
<circle cx="480.1" cy="1560.73" r="6" fill="#F8766D"/>
<circle cx="480.1" cy="1566.04" r="6" fill="#F8766D"/>
<circle cx="480.1" cy="1571.35" r="6" fill="#F8766D"/>
<circle cx="480.1" cy="1576.65" r="6" fill="#F8766D"/>
<circle cx="480.1" cy="1581.96" r="6" fill="#F8766D"/>
<circle cx="480.1" cy="1587.27" r="6" fill="#F8766D"/>
<circle cx="480.1" cy="1592.58" r="6" fill="#F8766D"/>
<circle cx="480.1" cy="1597.88" r="6" fill="#F8766D"/>
<circle cx="480.1" cy="1603.19" r="6" fill="#F8766D"/>
<circle cx="480.1" cy="1608.5" r="6" fill="#F8766D"/>
<circle cx="480.1" cy="1618.8" r="6" fill="#F8766D"/>
<circle cx="480.1" cy="1631" r="6" fill="#F8766D"/>
<line x1="526.1" y1="1476" x2="526.1" y2="1556.4" stroke="#00BFC4" stroke-width="3.4" stroke-linecap="butt"/>
<line x1="526.1" y1="1604.1" x2="526.1" y2="1664.5" stroke="#00BFC4" stroke-width="3.4" stroke-linecap="butt"/>
<rect x="505.3" y="1556.4" width="41.6" height="47.7" fill="none" stroke="#00BFC4" stroke-width="3.4" stroke-linejoin="round"/>
<line x1="505.3" y1="1577.6" x2="546.9" y2="1577.6" stroke="#00BFC4" stroke-width="7" stroke-linecap="butt"/>
<circle cx="526.1" cy="1476" r="6" fill="#00BFC4"/>
<circle cx="526.1" cy="1480" r="6" fill="#00BFC4"/>
<circle cx="526.1" cy="1485" r="6" fill="#00BFC4"/>
<circle cx="526.1" cy="1526" r="6" fill="#00BFC4"/>
<circle cx="526.1" cy="1539.5" r="6" fill="#00BFC4"/>
<circle cx="526.1" cy="1544.97" r="6" fill="#00BFC4"/>
<circle cx="526.1" cy="1550.43" r="6" fill="#00BFC4"/>
<circle cx="526.1" cy="1555.9" r="6" fill="#00BFC4"/>
<circle cx="526.1" cy="1561.37" r="6" fill="#00BFC4"/>
<circle cx="526.1" cy="1566.83" r="6" fill="#00BFC4"/>
<circle cx="526.1" cy="1572.3" r="6" fill="#00BFC4"/>
<circle cx="526.1" cy="1577.77" r="6" fill="#00BFC4"/>
<circle cx="526.1" cy="1583.23" r="6" fill="#00BFC4"/>
<circle cx="526.1" cy="1588.7" r="6" fill="#00BFC4"/>
<circle cx="526.1" cy="1594.17" r="6" fill="#00BFC4"/>
<circle cx="526.1" cy="1599.63" r="6" fill="#00BFC4"/>
<circle cx="526.1" cy="1605.1" r="6" fill="#00BFC4"/>
<circle cx="526.1" cy="1610.57" r="6" fill="#00BFC4"/>
<circle cx="526.1" cy="1616.03" r="6" fill="#00BFC4"/>
<circle cx="526.1" cy="1621.5" r="6" fill="#00BFC4"/>
<circle cx="526.1" cy="1664.5" r="6" fill="#00BFC4"/>
<line x1="602.7" y1="1489" x2="602.7" y2="1542.2" stroke="#F8766D" stroke-width="3.4" stroke-linecap="butt"/>
<line x1="602.7" y1="1574.6" x2="602.7" y2="1609" stroke="#F8766D" stroke-width="3.4" stroke-linecap="butt"/>
<rect x="581.9" y="1542.2" width="41.6" height="32.4" fill="none" stroke="#F8766D" stroke-width="3.4" stroke-linejoin="round"/>
<line x1="581.9" y1="1563.8" x2="623.5" y2="1563.8" stroke="#F8766D" stroke-width="7" stroke-linecap="butt"/>
<circle cx="602.7" cy="1430.4" r="6" fill="#F8766D"/>
<circle cx="602.7" cy="1489" r="6" fill="#F8766D"/>
<circle cx="602.7" cy="1502" r="6" fill="#F8766D"/>
<circle cx="602.7" cy="1526.5" r="6" fill="#F8766D"/>
<circle cx="602.7" cy="1532" r="6" fill="#F8766D"/>
<circle cx="602.7" cy="1537.5" r="6" fill="#F8766D"/>
<circle cx="602.7" cy="1543" r="6" fill="#F8766D"/>
<circle cx="602.7" cy="1548.5" r="6" fill="#F8766D"/>
<circle cx="602.7" cy="1554" r="6" fill="#F8766D"/>
<circle cx="602.7" cy="1559.5" r="6" fill="#F8766D"/>
<circle cx="602.7" cy="1565" r="6" fill="#F8766D"/>
<circle cx="602.7" cy="1570.5" r="6" fill="#F8766D"/>
<circle cx="602.7" cy="1576" r="6" fill="#F8766D"/>
<circle cx="602.7" cy="1581.5" r="6" fill="#F8766D"/>
<circle cx="602.7" cy="1587" r="6" fill="#F8766D"/>
<circle cx="602.7" cy="1592.5" r="6" fill="#F8766D"/>
<circle cx="602.7" cy="1598" r="6" fill="#F8766D"/>
<circle cx="602.7" cy="1603.5" r="6" fill="#F8766D"/>
<circle cx="602.7" cy="1643.3" r="6" fill="#F8766D"/>
<line x1="649" y1="1478" x2="649" y2="1539.6" stroke="#00BFC4" stroke-width="3.4" stroke-linecap="butt"/>
<line x1="649" y1="1575.1" x2="649" y2="1607.7" stroke="#00BFC4" stroke-width="3.4" stroke-linecap="butt"/>
<rect x="628.2" y="1539.6" width="41.6" height="35.5" fill="none" stroke="#00BFC4" stroke-width="3.4" stroke-linejoin="round"/>
<line x1="628.2" y1="1550.2" x2="669.8" y2="1550.2" stroke="#00BFC4" stroke-width="7" stroke-linecap="butt"/>
<circle cx="649" cy="1478" r="6" fill="#00BFC4"/>
<circle cx="649" cy="1503.5" r="6" fill="#00BFC4"/>
<circle cx="649" cy="1508.98" r="6" fill="#00BFC4"/>
<circle cx="649" cy="1514.47" r="6" fill="#00BFC4"/>
<circle cx="649" cy="1519.95" r="6" fill="#00BFC4"/>
<circle cx="649" cy="1525.43" r="6" fill="#00BFC4"/>
<circle cx="649" cy="1530.92" r="6" fill="#00BFC4"/>
<circle cx="649" cy="1536.4" r="6" fill="#00BFC4"/>
<circle cx="649" cy="1541.88" r="6" fill="#00BFC4"/>
<circle cx="649" cy="1547.37" r="6" fill="#00BFC4"/>
<circle cx="649" cy="1552.85" r="6" fill="#00BFC4"/>
<circle cx="649" cy="1558.33" r="6" fill="#00BFC4"/>
<circle cx="649" cy="1563.82" r="6" fill="#00BFC4"/>
<circle cx="649" cy="1569.3" r="6" fill="#00BFC4"/>
<circle cx="649" cy="1574.78" r="6" fill="#00BFC4"/>
<circle cx="649" cy="1580.27" r="6" fill="#00BFC4"/>
<circle cx="649" cy="1585.75" r="6" fill="#00BFC4"/>
<circle cx="649" cy="1591.23" r="6" fill="#00BFC4"/>
<circle cx="649" cy="1596.72" r="6" fill="#00BFC4"/>
<circle cx="649" cy="1602.2" r="6" fill="#00BFC4"/>
<path d="M481.9,1354.9 V1335.4 H530.4 V1354.9" fill="none" stroke="#000" stroke-width="1.9" stroke-linejoin="round"/>
<text x="508.5" y="1345.65" font-size="49.5" text-anchor="middle" fill="#000" font-family="'Liberation Sans', Arial, sans-serif">*</text>
<text x="964.2" y="1061.4" font-size="35" text-anchor="middle" fill="#000" font-family="'Liberation Sans', Arial, sans-serif">PODXL/UP</text>
<text transform="translate(747.2,1391.5) rotate(-90)" x="0" y="0" font-size="31.6" text-anchor="middle" fill="#000" font-family="'Liberation Sans', Arial, sans-serif">% of positive particles(ctrl adjusted)/EV conc</text>
<path d="M832.9,1083 V1692.2 H1102.5" fill="none" stroke="#000" stroke-width="3.6" stroke-linecap="butt" stroke-linejoin="miter"/>
<line x1="825.6" y1="1666" x2="831.1" y2="1666" stroke="#333333" stroke-width="3.2" stroke-linecap="butt"/>
<text x="821.2" y="1678.46" font-size="32" text-anchor="end" fill="#4D4D4D" font-family="'Liberation Sans', Arial, sans-serif">0.00</text>
<line x1="825.6" y1="1541.35" x2="831.1" y2="1541.35" stroke="#333333" stroke-width="3.2" stroke-linecap="butt"/>
<text x="821.2" y="1552.6" font-size="32" text-anchor="end" fill="#4D4D4D" font-family="'Liberation Sans', Arial, sans-serif">0.01</text>
<line x1="825.6" y1="1416.7" x2="831.1" y2="1416.7" stroke="#333333" stroke-width="3.2" stroke-linecap="butt"/>
<text x="821.2" y="1426.74" font-size="32" text-anchor="end" fill="#4D4D4D" font-family="'Liberation Sans', Arial, sans-serif">0.02</text>
<line x1="825.6" y1="1292.05" x2="831.1" y2="1292.05" stroke="#333333" stroke-width="3.2" stroke-linecap="butt"/>
<text x="821.2" y="1300.88" font-size="32" text-anchor="end" fill="#4D4D4D" font-family="'Liberation Sans', Arial, sans-serif">0.03</text>
<line x1="825.6" y1="1167.4" x2="831.1" y2="1167.4" stroke="#333333" stroke-width="3.2" stroke-linecap="butt"/>
<text x="821.2" y="1175.02" font-size="32" text-anchor="end" fill="#4D4D4D" font-family="'Liberation Sans', Arial, sans-serif">0.04</text>
<line x1="905.9" y1="1694" x2="905.9" y2="1699.5" stroke="#333333" stroke-width="3.2" stroke-linecap="butt"/>
<text x="905.9" y="1723.3" font-size="32" text-anchor="middle" fill="#4D4D4D" font-family="'Liberation Sans', Arial, sans-serif">Pre</text>
<line x1="1029" y1="1694" x2="1029" y2="1699.5" stroke="#333333" stroke-width="3.2" stroke-linecap="butt"/>
<text x="1025.8" y="1723.3" font-size="32" text-anchor="middle" fill="#4D4D4D" font-family="'Liberation Sans', Arial, sans-serif">Post</text>
<line x1="883.4" y1="1317" x2="883.4" y2="1335.4" stroke="#F8766D" stroke-width="3.4" stroke-linecap="butt"/>
<line x1="883.4" y1="1353.8" x2="883.4" y2="1416.3" stroke="#F8766D" stroke-width="3.4" stroke-linecap="butt"/>
<rect x="862.9" y="1335.4" width="41" height="18.4" fill="none" stroke="#F8766D" stroke-width="3.4" stroke-linejoin="round"/>
<line x1="862.9" y1="1342.5" x2="903.9" y2="1342.5" stroke="#F8766D" stroke-width="7" stroke-linecap="butt"/>
<circle cx="883.4" cy="1110.8" r="6" fill="#F8766D"/>
<circle cx="883.4" cy="1226.4" r="6" fill="#F8766D"/>
<circle cx="883.4" cy="1230.3" r="6" fill="#F8766D"/>
<circle cx="883.4" cy="1285" r="6" fill="#F8766D"/>
<circle cx="883.4" cy="1316.5" r="6" fill="#F8766D"/>
<circle cx="883.4" cy="1321.67" r="6" fill="#F8766D"/>
<circle cx="883.4" cy="1326.85" r="6" fill="#F8766D"/>
<circle cx="883.4" cy="1332.03" r="6" fill="#F8766D"/>
<circle cx="883.4" cy="1337.2" r="6" fill="#F8766D"/>
<circle cx="883.4" cy="1342.38" r="6" fill="#F8766D"/>
<circle cx="883.4" cy="1347.55" r="6" fill="#F8766D"/>
<circle cx="883.4" cy="1352.73" r="6" fill="#F8766D"/>
<circle cx="883.4" cy="1357.9" r="6" fill="#F8766D"/>
<circle cx="883.4" cy="1379" r="6" fill="#F8766D"/>
<circle cx="883.4" cy="1387.4" r="6" fill="#F8766D"/>
<circle cx="883.4" cy="1395.8" r="6" fill="#F8766D"/>
<circle cx="883.4" cy="1405.7" r="6" fill="#F8766D"/>
<circle cx="883.4" cy="1416.3" r="6" fill="#F8766D"/>
<circle cx="883.4" cy="1476.7" r="6" fill="#F8766D"/>
<circle cx="883.4" cy="1664.3" r="6" fill="#F8766D"/>
<line x1="929.5" y1="1320" x2="929.5" y2="1343.2" stroke="#00BFC4" stroke-width="3.4" stroke-linecap="butt"/>
<line x1="929.5" y1="1356.7" x2="929.5" y2="1373" stroke="#00BFC4" stroke-width="3.4" stroke-linecap="butt"/>
<rect x="909" y="1343.2" width="41" height="13.5" fill="none" stroke="#00BFC4" stroke-width="3.4" stroke-linejoin="round"/>
<line x1="909" y1="1349.2" x2="950" y2="1349.2" stroke="#00BFC4" stroke-width="7" stroke-linecap="butt"/>
<circle cx="929.5" cy="1305.4" r="6" fill="#00BFC4"/>
<circle cx="929.5" cy="1319.5" r="6" fill="#00BFC4"/>
<circle cx="929.5" cy="1324.9" r="6" fill="#00BFC4"/>
<circle cx="929.5" cy="1330.3" r="6" fill="#00BFC4"/>
<circle cx="929.5" cy="1335.7" r="6" fill="#00BFC4"/>
<circle cx="929.5" cy="1341.1" r="6" fill="#00BFC4"/>
<circle cx="929.5" cy="1346.5" r="6" fill="#00BFC4"/>
<circle cx="929.5" cy="1351.9" r="6" fill="#00BFC4"/>
<circle cx="929.5" cy="1357.3" r="6" fill="#00BFC4"/>
<circle cx="929.5" cy="1362.7" r="6" fill="#00BFC4"/>
<circle cx="929.5" cy="1368.1" r="6" fill="#00BFC4"/>
<circle cx="929.5" cy="1373.5" r="6" fill="#00BFC4"/>
<circle cx="929.5" cy="1389.5" r="6" fill="#00BFC4"/>
<circle cx="929.5" cy="1441.8" r="6" fill="#00BFC4"/>
<circle cx="929.5" cy="1444" r="6" fill="#00BFC4"/>
<line x1="1006.1" y1="1320.5" x2="1006.1" y2="1335.8" stroke="#F8766D" stroke-width="3.4" stroke-linecap="butt"/>
<line x1="1006.1" y1="1347.8" x2="1006.1" y2="1367" stroke="#F8766D" stroke-width="3.4" stroke-linecap="butt"/>
<rect x="985.6" y="1335.8" width="41" height="12" fill="none" stroke="#F8766D" stroke-width="3.4" stroke-linejoin="round"/>
<line x1="985.6" y1="1341.2" x2="1026.6" y2="1341.2" stroke="#F8766D" stroke-width="7" stroke-linecap="butt"/>
<circle cx="1006.1" cy="1320.1" r="6" fill="#F8766D"/>
<circle cx="1006.1" cy="1325.39" r="6" fill="#F8766D"/>
<circle cx="1006.1" cy="1330.68" r="6" fill="#F8766D"/>
<circle cx="1006.1" cy="1335.97" r="6" fill="#F8766D"/>
<circle cx="1006.1" cy="1341.26" r="6" fill="#F8766D"/>
<circle cx="1006.1" cy="1346.54" r="6" fill="#F8766D"/>
<circle cx="1006.1" cy="1351.83" r="6" fill="#F8766D"/>
<circle cx="1006.1" cy="1357.12" r="6" fill="#F8766D"/>
<circle cx="1006.1" cy="1362.41" r="6" fill="#F8766D"/>
<circle cx="1006.1" cy="1367.7" r="6" fill="#F8766D"/>
<circle cx="1006.1" cy="1393.5" r="6" fill="#F8766D"/>
<circle cx="1006.1" cy="1399" r="6" fill="#F8766D"/>
<line x1="1052.4" y1="1322.6" x2="1052.4" y2="1336.5" stroke="#00BFC4" stroke-width="3.4" stroke-linecap="butt"/>
<line x1="1052.4" y1="1342.6" x2="1052.4" y2="1369.5" stroke="#00BFC4" stroke-width="3.4" stroke-linecap="butt"/>
<rect x="1031.9" y="1336.5" width="41" height="6.1" fill="none" stroke="#00BFC4" stroke-width="3.4" stroke-linejoin="round"/>
<line x1="1031.9" y1="1339.5" x2="1072.9" y2="1339.5" stroke="#00BFC4" stroke-width="7" stroke-linecap="butt"/>
<circle cx="1052.4" cy="1225" r="6" fill="#00BFC4"/>
<circle cx="1052.4" cy="1304" r="6" fill="#00BFC4"/>
<circle cx="1052.4" cy="1322.2" r="6" fill="#00BFC4"/>
<circle cx="1052.4" cy="1327.5" r="6" fill="#00BFC4"/>
<circle cx="1052.4" cy="1332.8" r="6" fill="#00BFC4"/>
<circle cx="1052.4" cy="1338.1" r="6" fill="#00BFC4"/>
<circle cx="1052.4" cy="1343.4" r="6" fill="#00BFC4"/>
<circle cx="1052.4" cy="1348.7" r="6" fill="#00BFC4"/>
<circle cx="1052.4" cy="1354" r="6" fill="#00BFC4"/>
<circle cx="1052.4" cy="1359.3" r="6" fill="#00BFC4"/>
<circle cx="1052.4" cy="1364.6" r="6" fill="#00BFC4"/>
<circle cx="1052.4" cy="1369.9" r="6" fill="#00BFC4"/>
<path d="M880.6,1209.6 V1190.4 H929.1 V1209.6" fill="none" stroke="#000" stroke-width="1.9" stroke-linejoin="round"/>
<text x="906.4" y="1200.65" font-size="49.5" text-anchor="middle" fill="#000" font-family="'Liberation Sans', Arial, sans-serif">*</text>
<text x="1362.8" y="1061.3" font-size="35" text-anchor="middle" fill="#000" font-family="'Liberation Sans', Arial, sans-serif">PODXL/UCr</text>
<text transform="translate(1166.9,1391.5) rotate(-90)" x="0" y="0" font-size="31.6" text-anchor="middle" fill="#000" font-family="'Liberation Sans', Arial, sans-serif">% of positive particles(ctrl adjusted)/UCr x10<tspan dy="-12.8" font-size="21">-3</tspan></text>
<path d="M1238.3,1083 V1692.1 H1483.4" fill="none" stroke="#000" stroke-width="3.6" stroke-linecap="butt" stroke-linejoin="miter"/>
<line x1="1231" y1="1671" x2="1236.5" y2="1671" stroke="#333333" stroke-width="3.2" stroke-linecap="butt"/>
<text x="1226.4" y="1684.16" font-size="32" text-anchor="end" fill="#4D4D4D" font-family="'Liberation Sans', Arial, sans-serif">0.0</text>
<line x1="1231" y1="1512.67" x2="1236.5" y2="1512.67" stroke="#333333" stroke-width="3.2" stroke-linecap="butt"/>
<text x="1226.4" y="1524.99" font-size="32" text-anchor="end" fill="#4D4D4D" font-family="'Liberation Sans', Arial, sans-serif">2.5</text>
<line x1="1231" y1="1354.34" x2="1236.5" y2="1354.34" stroke="#333333" stroke-width="3.2" stroke-linecap="butt"/>
<text x="1226.4" y="1365.82" font-size="32" text-anchor="end" fill="#4D4D4D" font-family="'Liberation Sans', Arial, sans-serif">5.0</text>
<line x1="1231" y1="1196.01" x2="1236.5" y2="1196.01" stroke="#333333" stroke-width="3.2" stroke-linecap="butt"/>
<text x="1226.4" y="1206.65" font-size="32" text-anchor="end" fill="#4D4D4D" font-family="'Liberation Sans', Arial, sans-serif">7.5</text>
<line x1="1305.1" y1="1693.9" x2="1305.1" y2="1699.4" stroke="#333333" stroke-width="3.2" stroke-linecap="butt"/>
<text x="1304.4" y="1723.3" font-size="32" text-anchor="middle" fill="#4D4D4D" font-family="'Liberation Sans', Arial, sans-serif">Pre</text>
<line x1="1416.5" y1="1693.9" x2="1416.5" y2="1699.4" stroke="#333333" stroke-width="3.2" stroke-linecap="butt"/>
<text x="1414.3" y="1723.3" font-size="32" text-anchor="middle" fill="#4D4D4D" font-family="'Liberation Sans', Arial, sans-serif">Post</text>
<line x1="1283.9" y1="1347" x2="1283.9" y2="1379.3" stroke="#F8766D" stroke-width="3.4" stroke-linecap="butt"/>
<line x1="1283.9" y1="1402.4" x2="1283.9" y2="1431" stroke="#F8766D" stroke-width="3.4" stroke-linecap="butt"/>
<rect x="1265.2" y="1379.3" width="37.4" height="23.1" fill="none" stroke="#F8766D" stroke-width="3.4" stroke-linejoin="round"/>
<line x1="1265.2" y1="1387.2" x2="1302.6" y2="1387.2" stroke="#F8766D" stroke-width="7" stroke-linecap="butt"/>
<circle cx="1283.9" cy="1134.8" r="6.2" fill="#F8766D"/>
<circle cx="1283.9" cy="1177.8" r="6.2" fill="#F8766D"/>
<circle cx="1283.9" cy="1195.5" r="6.2" fill="#F8766D"/>
<circle cx="1283.9" cy="1323.6" r="6.2" fill="#F8766D"/>
<circle cx="1283.9" cy="1352.5" r="6.2" fill="#F8766D"/>
<circle cx="1283.9" cy="1358.14" r="6.2" fill="#F8766D"/>
<circle cx="1283.9" cy="1363.79" r="6.2" fill="#F8766D"/>
<circle cx="1283.9" cy="1369.43" r="6.2" fill="#F8766D"/>
<circle cx="1283.9" cy="1375.07" r="6.2" fill="#F8766D"/>
<circle cx="1283.9" cy="1380.71" r="6.2" fill="#F8766D"/>
<circle cx="1283.9" cy="1386.36" r="6.2" fill="#F8766D"/>
<circle cx="1283.9" cy="1392" r="6.2" fill="#F8766D"/>
<circle cx="1283.9" cy="1397.64" r="6.2" fill="#F8766D"/>
<circle cx="1283.9" cy="1403.29" r="6.2" fill="#F8766D"/>
<circle cx="1283.9" cy="1408.93" r="6.2" fill="#F8766D"/>
<circle cx="1283.9" cy="1414.57" r="6.2" fill="#F8766D"/>
<circle cx="1283.9" cy="1420.21" r="6.2" fill="#F8766D"/>
<circle cx="1283.9" cy="1425.86" r="6.2" fill="#F8766D"/>
<circle cx="1283.9" cy="1431.5" r="6.2" fill="#F8766D"/>
<circle cx="1283.9" cy="1464" r="6.2" fill="#F8766D"/>
<circle cx="1283.9" cy="1568" r="6.2" fill="#F8766D"/>
<circle cx="1283.9" cy="1664.3" r="6.2" fill="#F8766D"/>
<line x1="1325.8" y1="1347.6" x2="1325.8" y2="1392.1" stroke="#00BFC4" stroke-width="3.4" stroke-linecap="butt"/>
<line x1="1325.8" y1="1429.2" x2="1325.8" y2="1462" stroke="#00BFC4" stroke-width="3.4" stroke-linecap="butt"/>
<rect x="1307.1" y="1392.1" width="37.4" height="37.1" fill="none" stroke="#00BFC4" stroke-width="3.4" stroke-linejoin="round"/>
<line x1="1307.1" y1="1399.7" x2="1344.5" y2="1399.7" stroke="#00BFC4" stroke-width="7" stroke-linecap="butt"/>
<circle cx="1325.8" cy="1268.6" r="6.2" fill="#00BFC4"/>
<circle cx="1325.8" cy="1347.6" r="6.2" fill="#00BFC4"/>
<circle cx="1325.8" cy="1375.5" r="6.2" fill="#00BFC4"/>
<circle cx="1325.8" cy="1380.8" r="6.2" fill="#00BFC4"/>
<circle cx="1325.8" cy="1386.1" r="6.2" fill="#00BFC4"/>
<circle cx="1325.8" cy="1391.4" r="6.2" fill="#00BFC4"/>
<circle cx="1325.8" cy="1396.7" r="6.2" fill="#00BFC4"/>
<circle cx="1325.8" cy="1402" r="6.2" fill="#00BFC4"/>
<circle cx="1325.8" cy="1407.3" r="6.2" fill="#00BFC4"/>
<circle cx="1325.8" cy="1412.6" r="6.2" fill="#00BFC4"/>
<circle cx="1325.8" cy="1417.9" r="6.2" fill="#00BFC4"/>
<circle cx="1325.8" cy="1423.2" r="6.2" fill="#00BFC4"/>
<circle cx="1325.8" cy="1428.5" r="6.2" fill="#00BFC4"/>
<circle cx="1325.8" cy="1433.8" r="6.2" fill="#00BFC4"/>
<circle cx="1325.8" cy="1439.1" r="6.2" fill="#00BFC4"/>
<circle cx="1325.8" cy="1462" r="6.2" fill="#00BFC4"/>
<circle cx="1325.8" cy="1494.4" r="6.2" fill="#00BFC4"/>
<circle cx="1325.8" cy="1501.4" r="6.2" fill="#00BFC4"/>
<circle cx="1325.8" cy="1516.6" r="6.2" fill="#00BFC4"/>
<circle cx="1325.8" cy="1564.9" r="6.2" fill="#00BFC4"/>
<line x1="1395.7" y1="1352" x2="1395.7" y2="1381.1" stroke="#F8766D" stroke-width="3.4" stroke-linecap="butt"/>
<line x1="1395.7" y1="1405.8" x2="1395.7" y2="1441.9" stroke="#F8766D" stroke-width="3.4" stroke-linecap="butt"/>
<rect x="1377" y="1381.1" width="37.4" height="24.7" fill="none" stroke="#F8766D" stroke-width="3.4" stroke-linejoin="round"/>
<line x1="1377" y1="1391.9" x2="1414.4" y2="1391.9" stroke="#F8766D" stroke-width="7" stroke-linecap="butt"/>
<circle cx="1395.7" cy="1286.1" r="6.2" fill="#F8766D"/>
<circle cx="1395.7" cy="1328.6" r="6.2" fill="#F8766D"/>
<circle cx="1395.7" cy="1352" r="6.2" fill="#F8766D"/>
<circle cx="1395.7" cy="1366.3" r="6.2" fill="#F8766D"/>
<circle cx="1395.7" cy="1371.69" r="6.2" fill="#F8766D"/>
<circle cx="1395.7" cy="1377.08" r="6.2" fill="#F8766D"/>
<circle cx="1395.7" cy="1382.48" r="6.2" fill="#F8766D"/>
<circle cx="1395.7" cy="1387.87" r="6.2" fill="#F8766D"/>
<circle cx="1395.7" cy="1393.26" r="6.2" fill="#F8766D"/>
<circle cx="1395.7" cy="1398.65" r="6.2" fill="#F8766D"/>
<circle cx="1395.7" cy="1404.05" r="6.2" fill="#F8766D"/>
<circle cx="1395.7" cy="1409.44" r="6.2" fill="#F8766D"/>
<circle cx="1395.7" cy="1414.83" r="6.2" fill="#F8766D"/>
<circle cx="1395.7" cy="1420.22" r="6.2" fill="#F8766D"/>
<circle cx="1395.7" cy="1425.62" r="6.2" fill="#F8766D"/>
<circle cx="1395.7" cy="1431.01" r="6.2" fill="#F8766D"/>
<circle cx="1395.7" cy="1436.4" r="6.2" fill="#F8766D"/>
<circle cx="1395.7" cy="1581.2" r="6.2" fill="#F8766D"/>
<line x1="1437.5" y1="1341.7" x2="1437.5" y2="1378" stroke="#00BFC4" stroke-width="3.4" stroke-linecap="butt"/>
<line x1="1437.5" y1="1399.1" x2="1437.5" y2="1441.5" stroke="#00BFC4" stroke-width="3.4" stroke-linecap="butt"/>
<rect x="1418.8" y="1378" width="37.4" height="21.1" fill="none" stroke="#00BFC4" stroke-width="3.4" stroke-linejoin="round"/>
<line x1="1418.8" y1="1384" x2="1456.2" y2="1384" stroke="#00BFC4" stroke-width="7" stroke-linecap="butt"/>
<circle cx="1437.5" cy="1111" r="6.2" fill="#00BFC4"/>
<circle cx="1437.5" cy="1318.9" r="6.2" fill="#00BFC4"/>
<circle cx="1437.5" cy="1341.7" r="6.2" fill="#00BFC4"/>
<circle cx="1437.5" cy="1344.8" r="6.2" fill="#00BFC4"/>
<circle cx="1437.5" cy="1357.8" r="6.2" fill="#00BFC4"/>
<circle cx="1437.5" cy="1370.4" r="6.2" fill="#00BFC4"/>
<circle cx="1437.5" cy="1375.87" r="6.2" fill="#00BFC4"/>
<circle cx="1437.5" cy="1381.34" r="6.2" fill="#00BFC4"/>
<circle cx="1437.5" cy="1386.81" r="6.2" fill="#00BFC4"/>
<circle cx="1437.5" cy="1392.28" r="6.2" fill="#00BFC4"/>
<circle cx="1437.5" cy="1397.75" r="6.2" fill="#00BFC4"/>
<circle cx="1437.5" cy="1403.22" r="6.2" fill="#00BFC4"/>
<circle cx="1437.5" cy="1408.68" r="6.2" fill="#00BFC4"/>
<circle cx="1437.5" cy="1414.15" r="6.2" fill="#00BFC4"/>
<circle cx="1437.5" cy="1419.62" r="6.2" fill="#00BFC4"/>
<circle cx="1437.5" cy="1425.09" r="6.2" fill="#00BFC4"/>
<circle cx="1437.5" cy="1430.56" r="6.2" fill="#00BFC4"/>
<circle cx="1437.5" cy="1436.03" r="6.2" fill="#00BFC4"/>
<circle cx="1437.5" cy="1441.5" r="6.2" fill="#00BFC4"/>
<circle cx="1437.5" cy="1465" r="6.2" fill="#00BFC4"/>
<circle cx="1437.5" cy="1471" r="6.2" fill="#00BFC4"/>
<path d="M1280.4,1255.3 V1235.8 H1329.2 V1255.3" fill="none" stroke="#000" stroke-width="1.9" stroke-linejoin="round"/>
<text x="1306" y="1245.56" font-size="49.5" text-anchor="middle" fill="#000" font-family="'Liberation Sans', Arial, sans-serif">*</text>
<text x="467.5" y="1807.5" font-size="57" text-anchor="start" fill="#000" font-family="'Liberation Sans', Arial, sans-serif">E</text>
<text x="706.8" y="1807.2" font-size="35" text-anchor="middle" fill="#000" font-family="'Liberation Sans', Arial, sans-serif">HUTS21/UCr</text>
<text transform="translate(500.6,2137.2) rotate(-90)" x="0" y="0" font-size="31.5" text-anchor="middle" fill="#000" font-family="'Liberation Sans', Arial, sans-serif">% of positive particles(ctrl adjusted)/UCr</text>
<path d="M567,1829 V2438 H849" fill="none" stroke="#000" stroke-width="3.6" stroke-linecap="butt" stroke-linejoin="miter"/>
<line x1="559.7" y1="2410.6" x2="565.2" y2="2410.6" stroke="#333333" stroke-width="3.2" stroke-linecap="butt"/>
<text x="555.4" y="2421.16" font-size="29.5" text-anchor="end" fill="#4D4D4D" font-family="'Liberation Sans', Arial, sans-serif">0.0</text>
<line x1="559.7" y1="2271.4" x2="565.2" y2="2271.4" stroke="#333333" stroke-width="3.2" stroke-linecap="butt"/>
<text x="555.4" y="2281.96" font-size="29.5" text-anchor="end" fill="#4D4D4D" font-family="'Liberation Sans', Arial, sans-serif">0.1</text>
<line x1="559.7" y1="2132.2" x2="565.2" y2="2132.2" stroke="#333333" stroke-width="3.2" stroke-linecap="butt"/>
<text x="555.4" y="2142.76" font-size="29.5" text-anchor="end" fill="#4D4D4D" font-family="'Liberation Sans', Arial, sans-serif">0.2</text>
<line x1="559.7" y1="1993" x2="565.2" y2="1993" stroke="#333333" stroke-width="3.2" stroke-linecap="butt"/>
<text x="555.4" y="2003.56" font-size="29.5" text-anchor="end" fill="#4D4D4D" font-family="'Liberation Sans', Arial, sans-serif">0.3</text>
<line x1="559.7" y1="1853.8" x2="565.2" y2="1853.8" stroke="#333333" stroke-width="3.2" stroke-linecap="butt"/>
<text x="555.4" y="1864.36" font-size="29.5" text-anchor="end" fill="#4D4D4D" font-family="'Liberation Sans', Arial, sans-serif">0.4</text>
<line x1="643.7" y1="2439.8" x2="643.7" y2="2445.3" stroke="#333333" stroke-width="3.2" stroke-linecap="butt"/>
<text x="643.7" y="2470.3" font-size="32" text-anchor="middle" fill="#4D4D4D" font-family="'Liberation Sans', Arial, sans-serif">Pre</text>
<line x1="773" y1="2439.8" x2="773" y2="2445.3" stroke="#333333" stroke-width="3.2" stroke-linecap="butt"/>
<text x="763.5" y="2470.3" font-size="32" text-anchor="middle" fill="#4D4D4D" font-family="'Liberation Sans', Arial, sans-serif">Post</text>
<line x1="619.9" y1="2281.8" x2="619.9" y2="2338.5" stroke="#F8766D" stroke-width="3.4" stroke-linecap="butt"/>
<line x1="619.9" y1="2378.9" x2="619.9" y2="2403.6" stroke="#F8766D" stroke-width="3.4" stroke-linecap="butt"/>
<rect x="598.4" y="2338.5" width="43" height="40.4" fill="none" stroke="#F8766D" stroke-width="3.4" stroke-linejoin="round"/>
<line x1="598.4" y1="2370.4" x2="641.4" y2="2370.4" stroke="#F8766D" stroke-width="7" stroke-linecap="butt"/>
<circle cx="619.9" cy="1856.7" r="6.2" fill="#F8766D"/>
<circle cx="619.9" cy="1923.8" r="6.2" fill="#F8766D"/>
<circle cx="619.9" cy="1960.7" r="6.2" fill="#F8766D"/>
<circle cx="619.9" cy="1969.5" r="6.2" fill="#F8766D"/>
<circle cx="619.9" cy="2185.2" r="6.2" fill="#F8766D"/>
<circle cx="619.9" cy="2240.3" r="6.2" fill="#F8766D"/>
<circle cx="619.9" cy="2281.8" r="6.2" fill="#F8766D"/>
<circle cx="619.9" cy="2285.8" r="6.2" fill="#F8766D"/>
<circle cx="619.9" cy="2305" r="6.2" fill="#F8766D"/>
<circle cx="619.9" cy="2336" r="6.2" fill="#F8766D"/>
<circle cx="619.9" cy="2340.9" r="6.2" fill="#F8766D"/>
<circle cx="619.9" cy="2354.4" r="6.2" fill="#F8766D"/>
<circle cx="619.9" cy="2359.91" r="6.2" fill="#F8766D"/>
<circle cx="619.9" cy="2365.42" r="6.2" fill="#F8766D"/>
<circle cx="619.9" cy="2370.93" r="6.2" fill="#F8766D"/>
<circle cx="619.9" cy="2376.44" r="6.2" fill="#F8766D"/>
<circle cx="619.9" cy="2381.96" r="6.2" fill="#F8766D"/>
<circle cx="619.9" cy="2387.47" r="6.2" fill="#F8766D"/>
<circle cx="619.9" cy="2392.98" r="6.2" fill="#F8766D"/>
<circle cx="619.9" cy="2398.49" r="6.2" fill="#F8766D"/>
<circle cx="619.9" cy="2404" r="6.2" fill="#F8766D"/>
<line x1="667.8" y1="2229" x2="667.8" y2="2319.4" stroke="#00BFC4" stroke-width="3.4" stroke-linecap="butt"/>
<line x1="667.8" y1="2377.5" x2="667.8" y2="2409.5" stroke="#00BFC4" stroke-width="3.4" stroke-linecap="butt"/>
<rect x="646.3" y="2319.4" width="43" height="58.1" fill="none" stroke="#00BFC4" stroke-width="3.4" stroke-linejoin="round"/>
<line x1="646.3" y1="2357.2" x2="689.3" y2="2357.2" stroke="#00BFC4" stroke-width="7" stroke-linecap="butt"/>
<circle cx="667.8" cy="2136.7" r="6.2" fill="#00BFC4"/>
<circle cx="667.8" cy="2150.9" r="6.2" fill="#00BFC4"/>
<circle cx="667.8" cy="2229" r="6.2" fill="#00BFC4"/>
<circle cx="667.8" cy="2262.6" r="6.2" fill="#00BFC4"/>
<circle cx="667.8" cy="2268.2" r="6.2" fill="#00BFC4"/>
<circle cx="667.8" cy="2273.8" r="6.2" fill="#00BFC4"/>
<circle cx="667.8" cy="2283.4" r="6.2" fill="#00BFC4"/>
<circle cx="667.8" cy="2298.6" r="6.2" fill="#00BFC4"/>
<circle cx="667.8" cy="2318.4" r="6.2" fill="#00BFC4"/>
<circle cx="667.8" cy="2324.43" r="6.2" fill="#00BFC4"/>
<circle cx="667.8" cy="2330.45" r="6.2" fill="#00BFC4"/>
<circle cx="667.8" cy="2336.47" r="6.2" fill="#00BFC4"/>
<circle cx="667.8" cy="2342.5" r="6.2" fill="#00BFC4"/>
<circle cx="667.8" cy="2357.5" r="6.2" fill="#00BFC4"/>
<circle cx="667.8" cy="2363.01" r="6.2" fill="#00BFC4"/>
<circle cx="667.8" cy="2368.53" r="6.2" fill="#00BFC4"/>
<circle cx="667.8" cy="2374.04" r="6.2" fill="#00BFC4"/>
<circle cx="667.8" cy="2379.56" r="6.2" fill="#00BFC4"/>
<circle cx="667.8" cy="2385.07" r="6.2" fill="#00BFC4"/>
<circle cx="667.8" cy="2390.59" r="6.2" fill="#00BFC4"/>
<circle cx="667.8" cy="2396.1" r="6.2" fill="#00BFC4"/>
<circle cx="667.8" cy="2409.5" r="6.2" fill="#00BFC4"/>
<line x1="748.2" y1="2285" x2="748.2" y2="2353.7" stroke="#F8766D" stroke-width="3.4" stroke-linecap="butt"/>
<line x1="748.2" y1="2381.5" x2="748.2" y2="2402" stroke="#F8766D" stroke-width="3.4" stroke-linecap="butt"/>
<rect x="726.7" y="2353.7" width="43" height="27.8" fill="none" stroke="#F8766D" stroke-width="3.4" stroke-linejoin="round"/>
<line x1="726.7" y1="2368.8" x2="769.7" y2="2368.8" stroke="#F8766D" stroke-width="7" stroke-linecap="butt"/>
<circle cx="748.2" cy="2285" r="6.2" fill="#F8766D"/>
<circle cx="748.2" cy="2300.1" r="6.2" fill="#F8766D"/>
<circle cx="748.2" cy="2305.49" r="6.2" fill="#F8766D"/>
<circle cx="748.2" cy="2310.88" r="6.2" fill="#F8766D"/>
<circle cx="748.2" cy="2316.27" r="6.2" fill="#F8766D"/>
<circle cx="748.2" cy="2321.66" r="6.2" fill="#F8766D"/>
<circle cx="748.2" cy="2327.05" r="6.2" fill="#F8766D"/>
<circle cx="748.2" cy="2332.44" r="6.2" fill="#F8766D"/>
<circle cx="748.2" cy="2337.83" r="6.2" fill="#F8766D"/>
<circle cx="748.2" cy="2343.22" r="6.2" fill="#F8766D"/>
<circle cx="748.2" cy="2348.61" r="6.2" fill="#F8766D"/>
<circle cx="748.2" cy="2353.99" r="6.2" fill="#F8766D"/>
<circle cx="748.2" cy="2359.38" r="6.2" fill="#F8766D"/>
<circle cx="748.2" cy="2364.77" r="6.2" fill="#F8766D"/>
<circle cx="748.2" cy="2370.16" r="6.2" fill="#F8766D"/>
<circle cx="748.2" cy="2375.55" r="6.2" fill="#F8766D"/>
<circle cx="748.2" cy="2380.94" r="6.2" fill="#F8766D"/>
<circle cx="748.2" cy="2386.33" r="6.2" fill="#F8766D"/>
<circle cx="748.2" cy="2391.72" r="6.2" fill="#F8766D"/>
<circle cx="748.2" cy="2397.11" r="6.2" fill="#F8766D"/>
<circle cx="748.2" cy="2402.5" r="6.2" fill="#F8766D"/>
<line x1="796.4" y1="2245.9" x2="796.4" y2="2322.6" stroke="#00BFC4" stroke-width="3.4" stroke-linecap="butt"/>
<line x1="796.4" y1="2374.3" x2="796.4" y2="2395.7" stroke="#00BFC4" stroke-width="3.4" stroke-linecap="butt"/>
<rect x="774.9" y="2322.6" width="43" height="51.7" fill="none" stroke="#00BFC4" stroke-width="3.4" stroke-linejoin="round"/>
<line x1="774.9" y1="2351.2" x2="817.9" y2="2351.2" stroke="#00BFC4" stroke-width="7" stroke-linecap="butt"/>
<circle cx="796.4" cy="2033.5" r="6.2" fill="#00BFC4"/>
<circle cx="796.4" cy="2206.4" r="6.2" fill="#00BFC4"/>
<circle cx="796.4" cy="2241.9" r="6.2" fill="#00BFC4"/>
<circle cx="796.4" cy="2245.9" r="6.2" fill="#00BFC4"/>
<circle cx="796.4" cy="2285" r="6.2" fill="#00BFC4"/>
<circle cx="796.4" cy="2304.9" r="6.2" fill="#00BFC4"/>
<circle cx="796.4" cy="2310.26" r="6.2" fill="#00BFC4"/>
<circle cx="796.4" cy="2315.63" r="6.2" fill="#00BFC4"/>
<circle cx="796.4" cy="2320.99" r="6.2" fill="#00BFC4"/>
<circle cx="796.4" cy="2326.36" r="6.2" fill="#00BFC4"/>
<circle cx="796.4" cy="2331.72" r="6.2" fill="#00BFC4"/>
<circle cx="796.4" cy="2337.09" r="6.2" fill="#00BFC4"/>
<circle cx="796.4" cy="2342.45" r="6.2" fill="#00BFC4"/>
<circle cx="796.4" cy="2347.82" r="6.2" fill="#00BFC4"/>
<circle cx="796.4" cy="2353.18" r="6.2" fill="#00BFC4"/>
<circle cx="796.4" cy="2358.55" r="6.2" fill="#00BFC4"/>
<circle cx="796.4" cy="2363.91" r="6.2" fill="#00BFC4"/>
<circle cx="796.4" cy="2369.28" r="6.2" fill="#00BFC4"/>
<circle cx="796.4" cy="2374.64" r="6.2" fill="#00BFC4"/>
<circle cx="796.4" cy="2380.01" r="6.2" fill="#00BFC4"/>
<circle cx="796.4" cy="2385.37" r="6.2" fill="#00BFC4"/>
<circle cx="796.4" cy="2390.74" r="6.2" fill="#00BFC4"/>
<circle cx="796.4" cy="2396.1" r="6.2" fill="#00BFC4"/>
<path d="M746.9,2174 V2154.6 H795.9 V2174" fill="none" stroke="#000" stroke-width="1.9" stroke-linejoin="round"/>
<text x="773" y="2165.66" font-size="49.5" text-anchor="middle" fill="#000" font-family="'Liberation Sans', Arial, sans-serif">*</text>
<text x="988.3" y="1807.2" font-size="57" text-anchor="start" fill="#000" font-family="'Liberation Sans', Arial, sans-serif">F</text>
<text x="1219.2" y="1807.2" font-size="35" text-anchor="middle" fill="#000" font-family="'Liberation Sans', Arial, sans-serif">CD105/UCr</text>
<text transform="translate(1022.6,2136.4) rotate(-90)" x="0" y="0" font-size="31.5" text-anchor="middle" fill="#000" font-family="'Liberation Sans', Arial, sans-serif">% of positive particles(ctrl adjusted)/UCr</text>
<path d="M1100,1829 V2438 H1345" fill="none" stroke="#000" stroke-width="3.6" stroke-linecap="butt" stroke-linejoin="miter"/>
<line x1="1092.7" y1="2415.3" x2="1098.2" y2="2415.3" stroke="#333333" stroke-width="3.2" stroke-linecap="butt"/>
<text x="1090.3" y="2425.68" font-size="29" text-anchor="end" fill="#4D4D4D" font-family="'Liberation Sans', Arial, sans-serif">0.00</text>
<line x1="1092.7" y1="2279.3" x2="1098.2" y2="2279.3" stroke="#333333" stroke-width="3.2" stroke-linecap="butt"/>
<text x="1090.3" y="2289.68" font-size="29" text-anchor="end" fill="#4D4D4D" font-family="'Liberation Sans', Arial, sans-serif">0.25</text>
<line x1="1092.7" y1="2143.3" x2="1098.2" y2="2143.3" stroke="#333333" stroke-width="3.2" stroke-linecap="butt"/>
<text x="1090.3" y="2153.68" font-size="29" text-anchor="end" fill="#4D4D4D" font-family="'Liberation Sans', Arial, sans-serif">0.5</text>
<line x1="1092.7" y1="2007.3" x2="1098.2" y2="2007.3" stroke="#333333" stroke-width="3.2" stroke-linecap="butt"/>
<text x="1090.3" y="2017.68" font-size="29" text-anchor="end" fill="#4D4D4D" font-family="'Liberation Sans', Arial, sans-serif">0.75</text>
<line x1="1092.7" y1="1871.3" x2="1098.2" y2="1871.3" stroke="#333333" stroke-width="3.2" stroke-linecap="butt"/>
<text x="1090.3" y="1881.68" font-size="29" text-anchor="end" fill="#4D4D4D" font-family="'Liberation Sans', Arial, sans-serif">1.0</text>
<line x1="1166.8" y1="2439.8" x2="1166.8" y2="2445.3" stroke="#333333" stroke-width="3.2" stroke-linecap="butt"/>
<text x="1164.5" y="2470.3" font-size="32" text-anchor="middle" fill="#4D4D4D" font-family="'Liberation Sans', Arial, sans-serif">Pre</text>
<line x1="1278.8" y1="2439.8" x2="1278.8" y2="2445.3" stroke="#333333" stroke-width="3.2" stroke-linecap="butt"/>
<text x="1274.4" y="2470.3" font-size="32" text-anchor="middle" fill="#4D4D4D" font-family="'Liberation Sans', Arial, sans-serif">Post</text>
<line x1="1145.8" y1="2080" x2="1145.8" y2="2145.6" stroke="#F8766D" stroke-width="3.4" stroke-linecap="butt"/>
<line x1="1145.8" y1="2196" x2="1145.8" y2="2242.2" stroke="#F8766D" stroke-width="3.4" stroke-linecap="butt"/>
<rect x="1127.3" y="2145.6" width="37" height="50.4" fill="none" stroke="#F8766D" stroke-width="3.4" stroke-linejoin="round"/>
<line x1="1127.3" y1="2176.2" x2="1164.3" y2="2176.2" stroke="#F8766D" stroke-width="7" stroke-linecap="butt"/>
<circle cx="1145.8" cy="1856.7" r="6" fill="#F8766D"/>
<circle cx="1145.8" cy="1868.4" r="6" fill="#F8766D"/>
<circle cx="1145.8" cy="2026.4" r="6" fill="#F8766D"/>
<circle cx="1145.8" cy="2033.5" r="6" fill="#F8766D"/>
<circle cx="1145.8" cy="2056.5" r="6" fill="#F8766D"/>
<circle cx="1145.8" cy="2075.5" r="6" fill="#F8766D"/>
<circle cx="1145.8" cy="2080" r="6" fill="#F8766D"/>
<circle cx="1145.8" cy="2109" r="6" fill="#F8766D"/>
<circle cx="1145.8" cy="2113" r="6" fill="#F8766D"/>
<circle cx="1145.8" cy="2116" r="6" fill="#F8766D"/>
<circle cx="1145.8" cy="2127.7" r="6" fill="#F8766D"/>
<circle cx="1145.8" cy="2144.5" r="6" fill="#F8766D"/>
<circle cx="1145.8" cy="2149.93" r="6" fill="#F8766D"/>
<circle cx="1145.8" cy="2155.36" r="6" fill="#F8766D"/>
<circle cx="1145.8" cy="2160.79" r="6" fill="#F8766D"/>
<circle cx="1145.8" cy="2166.21" r="6" fill="#F8766D"/>
<circle cx="1145.8" cy="2171.64" r="6" fill="#F8766D"/>
<circle cx="1145.8" cy="2177.07" r="6" fill="#F8766D"/>
<circle cx="1145.8" cy="2182.5" r="6" fill="#F8766D"/>
<circle cx="1145.8" cy="2187.93" r="6" fill="#F8766D"/>
<circle cx="1145.8" cy="2193.36" r="6" fill="#F8766D"/>
<circle cx="1145.8" cy="2198.79" r="6" fill="#F8766D"/>
<circle cx="1145.8" cy="2204.21" r="6" fill="#F8766D"/>
<circle cx="1145.8" cy="2209.64" r="6" fill="#F8766D"/>
<circle cx="1145.8" cy="2215.07" r="6" fill="#F8766D"/>
<circle cx="1145.8" cy="2220.5" r="6" fill="#F8766D"/>
<circle cx="1145.8" cy="2242.2" r="6" fill="#F8766D"/>
<circle cx="1145.8" cy="2286.7" r="6" fill="#F8766D"/>
<line x1="1187.7" y1="2069.7" x2="1187.7" y2="2141.1" stroke="#00BFC4" stroke-width="3.4" stroke-linecap="butt"/>
<line x1="1187.7" y1="2193.4" x2="1187.7" y2="2242.2" stroke="#00BFC4" stroke-width="3.4" stroke-linecap="butt"/>
<rect x="1169.2" y="2141.1" width="37" height="52.3" fill="none" stroke="#00BFC4" stroke-width="3.4" stroke-linejoin="round"/>
<line x1="1169.2" y1="2175.3" x2="1206.2" y2="2175.3" stroke="#00BFC4" stroke-width="7" stroke-linecap="butt"/>
<circle cx="1187.7" cy="2052.9" r="6" fill="#00BFC4"/>
<circle cx="1187.7" cy="2069.7" r="6" fill="#00BFC4"/>
<circle cx="1187.7" cy="2074" r="6" fill="#00BFC4"/>
<circle cx="1187.7" cy="2078" r="6" fill="#00BFC4"/>
<circle cx="1187.7" cy="2087" r="6" fill="#00BFC4"/>
<circle cx="1187.7" cy="2091.5" r="6" fill="#00BFC4"/>
<circle cx="1187.7" cy="2096" r="6" fill="#00BFC4"/>
<circle cx="1187.7" cy="2110.3" r="6" fill="#00BFC4"/>
<circle cx="1187.7" cy="2122.5" r="6" fill="#00BFC4"/>
<circle cx="1187.7" cy="2128.16" r="6" fill="#00BFC4"/>
<circle cx="1187.7" cy="2133.82" r="6" fill="#00BFC4"/>
<circle cx="1187.7" cy="2139.48" r="6" fill="#00BFC4"/>
<circle cx="1187.7" cy="2145.15" r="6" fill="#00BFC4"/>
<circle cx="1187.7" cy="2150.81" r="6" fill="#00BFC4"/>
<circle cx="1187.7" cy="2156.47" r="6" fill="#00BFC4"/>
<circle cx="1187.7" cy="2162.13" r="6" fill="#00BFC4"/>
<circle cx="1187.7" cy="2167.79" r="6" fill="#00BFC4"/>
<circle cx="1187.7" cy="2173.45" r="6" fill="#00BFC4"/>
<circle cx="1187.7" cy="2179.12" r="6" fill="#00BFC4"/>
<circle cx="1187.7" cy="2184.78" r="6" fill="#00BFC4"/>
<circle cx="1187.7" cy="2190.44" r="6" fill="#00BFC4"/>
<circle cx="1187.7" cy="2196.1" r="6" fill="#00BFC4"/>
<circle cx="1187.7" cy="2212.6" r="6" fill="#00BFC4"/>
<circle cx="1187.7" cy="2242.2" r="6" fill="#00BFC4"/>
<circle cx="1187.7" cy="2286.7" r="6" fill="#00BFC4"/>
<circle cx="1187.7" cy="2339.4" r="6" fill="#00BFC4"/>
<circle cx="1187.7" cy="2409.6" r="6" fill="#00BFC4"/>
<line x1="1257.6" y1="2142" x2="1257.6" y2="2172.3" stroke="#F8766D" stroke-width="3.4" stroke-linecap="butt"/>
<line x1="1257.6" y1="2199.9" x2="1257.6" y2="2238.4" stroke="#F8766D" stroke-width="3.4" stroke-linecap="butt"/>
<rect x="1239.1" y="2172.3" width="37" height="27.6" fill="none" stroke="#F8766D" stroke-width="3.4" stroke-linejoin="round"/>
<line x1="1239.1" y1="2190.9" x2="1276.1" y2="2190.9" stroke="#F8766D" stroke-width="7" stroke-linecap="butt"/>
<circle cx="1257.6" cy="1898.8" r="6" fill="#F8766D"/>
<circle cx="1257.6" cy="2060" r="6" fill="#F8766D"/>
<circle cx="1257.6" cy="2118.7" r="6" fill="#F8766D"/>
<circle cx="1257.6" cy="2123.2" r="6" fill="#F8766D"/>
<circle cx="1257.6" cy="2142" r="6" fill="#F8766D"/>
<circle cx="1257.6" cy="2146" r="6" fill="#F8766D"/>
<circle cx="1257.6" cy="2150.3" r="6" fill="#F8766D"/>
<circle cx="1257.6" cy="2158.5" r="6" fill="#F8766D"/>
<circle cx="1257.6" cy="2164.11" r="6" fill="#F8766D"/>
<circle cx="1257.6" cy="2169.72" r="6" fill="#F8766D"/>
<circle cx="1257.6" cy="2175.33" r="6" fill="#F8766D"/>
<circle cx="1257.6" cy="2180.94" r="6" fill="#F8766D"/>
<circle cx="1257.6" cy="2186.56" r="6" fill="#F8766D"/>
<circle cx="1257.6" cy="2192.17" r="6" fill="#F8766D"/>
<circle cx="1257.6" cy="2197.78" r="6" fill="#F8766D"/>
<circle cx="1257.6" cy="2203.39" r="6" fill="#F8766D"/>
<circle cx="1257.6" cy="2209" r="6" fill="#F8766D"/>
<circle cx="1257.6" cy="2238.4" r="6" fill="#F8766D"/>
<circle cx="1257.6" cy="2264.8" r="6" fill="#F8766D"/>
<line x1="1299.3" y1="2089.7" x2="1299.3" y2="2142.9" stroke="#00BFC4" stroke-width="3.4" stroke-linecap="butt"/>
<line x1="1299.3" y1="2190.9" x2="1299.3" y2="2214.3" stroke="#00BFC4" stroke-width="3.4" stroke-linecap="butt"/>
<rect x="1280.8" y="2142.9" width="37" height="48" fill="none" stroke="#00BFC4" stroke-width="3.4" stroke-linejoin="round"/>
<line x1="1280.8" y1="2177.7" x2="1317.8" y2="2177.7" stroke="#00BFC4" stroke-width="7" stroke-linecap="butt"/>
<circle cx="1299.3" cy="1935.4" r="6" fill="#00BFC4"/>
<circle cx="1299.3" cy="2089.7" r="6" fill="#00BFC4"/>
<circle cx="1299.3" cy="2105.1" r="6" fill="#00BFC4"/>
<circle cx="1299.3" cy="2120.1" r="6" fill="#00BFC4"/>
<circle cx="1299.3" cy="2125.67" r="6" fill="#00BFC4"/>
<circle cx="1299.3" cy="2131.24" r="6" fill="#00BFC4"/>
<circle cx="1299.3" cy="2136.81" r="6" fill="#00BFC4"/>
<circle cx="1299.3" cy="2142.38" r="6" fill="#00BFC4"/>
<circle cx="1299.3" cy="2147.95" r="6" fill="#00BFC4"/>
<circle cx="1299.3" cy="2153.52" r="6" fill="#00BFC4"/>
<circle cx="1299.3" cy="2159.09" r="6" fill="#00BFC4"/>
<circle cx="1299.3" cy="2164.66" r="6" fill="#00BFC4"/>
<circle cx="1299.3" cy="2170.24" r="6" fill="#00BFC4"/>
<circle cx="1299.3" cy="2175.81" r="6" fill="#00BFC4"/>
<circle cx="1299.3" cy="2181.38" r="6" fill="#00BFC4"/>
<circle cx="1299.3" cy="2186.95" r="6" fill="#00BFC4"/>
<circle cx="1299.3" cy="2192.52" r="6" fill="#00BFC4"/>
<circle cx="1299.3" cy="2198.09" r="6" fill="#00BFC4"/>
<circle cx="1299.3" cy="2203.66" r="6" fill="#00BFC4"/>
<circle cx="1299.3" cy="2209.23" r="6" fill="#00BFC4"/>
<circle cx="1299.3" cy="2214.8" r="6" fill="#00BFC4"/>
<path d="M1256,2007.2 V1988.2 H1304.3 V2007.2" fill="none" stroke="#000" stroke-width="1.9" stroke-linejoin="round"/>
<text x="1282.4" y="1997.95" font-size="49.5" text-anchor="middle" fill="#000" font-family="'Liberation Sans', Arial, sans-serif">*</text>
</svg>
</body></html>
